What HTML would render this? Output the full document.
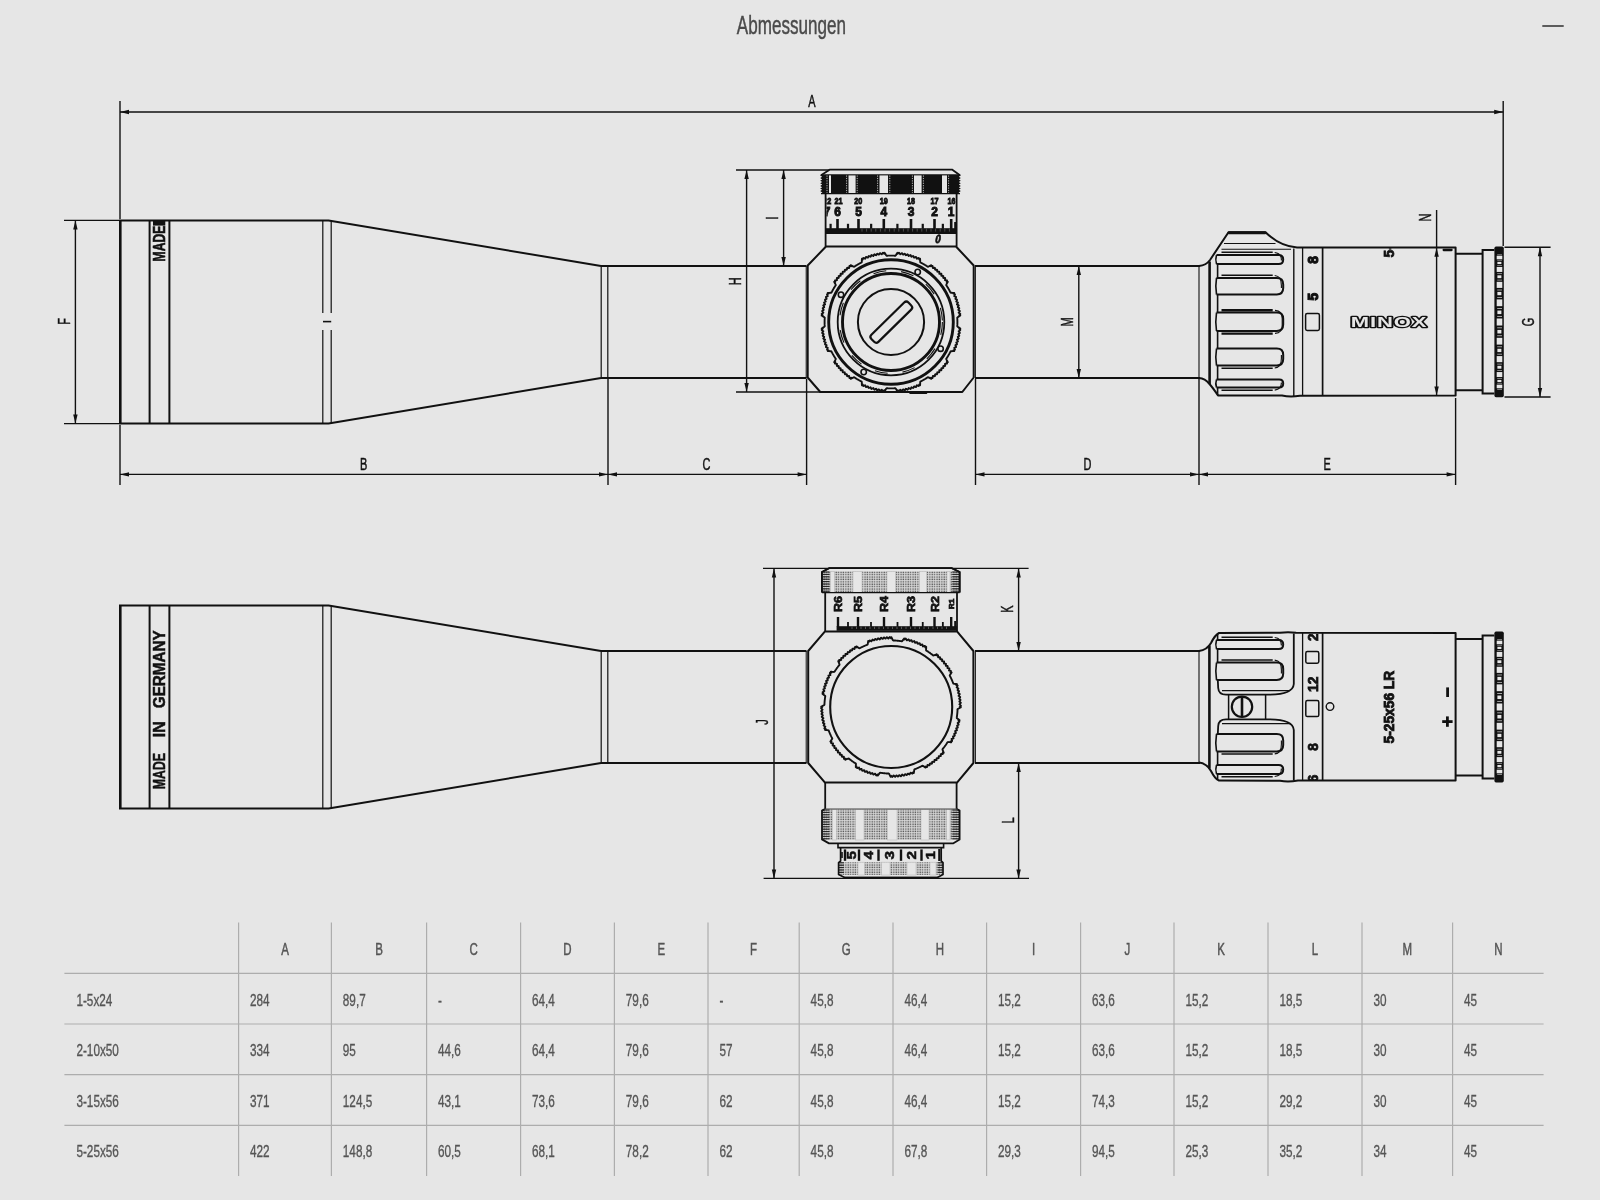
<!DOCTYPE html>
<html lang="de"><head><meta charset="utf-8"><title>Abmessungen</title>
<style>
html,body{margin:0;padding:0;background:#e6e6e6;}
body{width:1600px;height:1200px;overflow:hidden;font-family:"Liberation Sans",sans-serif;}
svg{display:block;will-change:transform;font-family:"Liberation Sans",sans-serif;}
</style></head><body>
<svg width="1600" height="1200" viewBox="0 0 1600 1200">
<text transform="translate(736.8,33.5) scale(0.657,1)" font-size="26" fill="#4a4a4a" stroke="#4a4a4a" stroke-width="0.45">Abmessungen</text>
<line x1="1543" y1="25.95" x2="1563" y2="25.95" stroke="#5c5c5c" stroke-width="1.9" stroke-linecap="round"/>
<path d="M601,266 L328.6,220.4 L120,220.4 L120,423.6 L328.6,423.6 L601,378" stroke="#111" stroke-width="2" fill="none" stroke-linejoin="miter"/>
<line x1="120.3" y1="220.4" x2="120.3" y2="423.6" stroke="#111" stroke-width="2.6"/>
<line x1="149.6" y1="220.4" x2="149.6" y2="423.6" stroke="#111" stroke-width="2"/>
<line x1="169.4" y1="220.4" x2="169.4" y2="423.6" stroke="#111" stroke-width="2"/>
<line x1="322.8" y1="220.4" x2="322.8" y2="313" stroke="#111" stroke-width="1.2"/>
<line x1="322.8" y1="330" x2="322.8" y2="423.6" stroke="#111" stroke-width="1.2"/>
<line x1="331.2" y1="220.4" x2="331.2" y2="313" stroke="#111" stroke-width="1.2"/>
<line x1="331.2" y1="330" x2="331.2" y2="423.6" stroke="#111" stroke-width="1.2"/>
<line x1="323" y1="321.6" x2="331.2" y2="321.6" stroke="#111" stroke-width="1.6"/>
<rect x="153" y="220.4" width="12.3" height="5.2" fill="#111" stroke="none" stroke-width="0" rx="0"/>
<text transform="translate(165,261.4) rotate(-90)" font-size="16.6" font-weight="bold" fill="#111" stroke="#111" stroke-width="0.6" textLength="35.6" lengthAdjust="spacingAndGlyphs">MADE</text>
<line x1="601" y1="266" x2="806.5" y2="266" stroke="#111" stroke-width="2"/>
<line x1="601" y1="378" x2="806.5" y2="378" stroke="#111" stroke-width="2"/>
<line x1="601.2" y1="266" x2="601.2" y2="378" stroke="#111" stroke-width="1.2"/>
<line x1="607.8" y1="266" x2="607.8" y2="378" stroke="#111" stroke-width="1.2"/>
<line x1="975" y1="266" x2="1200" y2="266" stroke="#111" stroke-width="2"/>
<line x1="975" y1="378" x2="1200" y2="378" stroke="#111" stroke-width="2"/>
<path d="M826,246.5 L956,246.5 L973.7,265.5 L973.7,377.5 L962.3,392 L820.3,392 L807.7,377.5 L807.7,265.5 Z" stroke="#111" stroke-width="2" fill="none" stroke-linejoin="round"/>
<line x1="806.2" y1="266" x2="806.2" y2="378" stroke="#111" stroke-width="1"/>
<line x1="975.4" y1="266" x2="975.4" y2="378" stroke="#111" stroke-width="1"/>
<line x1="910" y1="393.3" x2="926.5" y2="393.3" stroke="#111" stroke-width="1.5" stroke-linecap="round"/>
<path d="M957.4,322 L957.4,322.36 L957.4,322.72 L957.39,323.09 L957.38,323.45 L957.38,323.81 L957.36,324.17 L957.35,324.53 L957.34,324.9 L957.32,325.26 L957.3,325.62 L957.28,325.98 L957.26,326.34 L957.62,326.73 L958.3,327.15 L958.97,327.57 L959.64,328.01 L960.3,328.44 L959.25,328.72 L959.6,329.13 L959.95,329.55 L960.3,329.97 L959.96,330.31 L959.52,330.64 L959.09,330.96 L958.68,331.29 L959.02,331.71 L959.35,332.14 L959.68,332.57 L959.85,332.98 L959.41,333.29 L958.96,333.6 L958.51,333.9 L958.34,334.25 L958.65,334.69 L958.96,335.13 L959.27,335.58 L959.18,335.95 L958.73,336.24 L958.26,336.53 L957.8,336.81 L957.86,337.21 L958.15,337.66 L958.45,338.12 L958.74,338.58 L958.39,338.88 L957.92,339.15 L957.45,339.42 L956.97,339.68 L957.25,340.14 L957.53,340.61 L957.8,341.08 L957.95,341.51 L957.47,341.77 L956.99,342.02 L956.5,342.26 L956.26,342.58 L956.52,343.05 L956.77,343.53 L957.02,344.01 L956.92,344.38 L956.43,344.61 L955.93,344.83 L955.44,345.06 L955.42,345.45 L955.65,345.93 L955.89,346.42 L956.12,346.92 L955.76,347.18 L955.26,347.39 L954.76,347.6 L954.26,347.8 L954.45,348.28 L954.66,348.78 L954.88,349.28 L955,349.74 L954.49,349.94 L953.98,350.12 L953.47,350.3 L954.24,351.07 L953.45,351.12 L952.65,351.16 L951.86,351.19 L951.06,351.21 L950.55,351.37 L950.39,351.69 L950.23,352.02 L950.06,352.34 L949.9,352.66 L949.73,352.98 L949.56,353.3 L949.39,353.62 L949.21,353.94 L949.04,354.25 L948.86,354.57 L948.68,354.89 L948.5,355.2 L948.32,355.51 L948.14,355.83 L947.95,356.14 L947.77,356.45 L947.58,356.76 L947.39,357.06 L947.19,357.37 L947,357.68 L946.81,357.98 L946.61,358.29 L946.41,358.59 L946.21,358.89 L946.33,359.41 L946.71,360.11 L947.08,360.81 L947.44,361.52 L947.8,362.23 L946.75,361.95 L946.84,362.48 L946.94,363.01 L947.03,363.55 L946.56,363.68 L946.02,363.75 L945.48,363.81 L944.97,363.88 L945.05,364.42 L945.12,364.95 L945.19,365.49 L945.14,365.94 L944.59,365.98 L944.05,366.03 L943.51,366.06 L943.19,366.28 L943.24,366.82 L943.29,367.36 L943.34,367.9 L943.07,368.17 L942.53,368.2 L941.99,368.21 L941.45,368.23 L941.3,368.6 L941.33,369.14 L941.35,369.68 L941.38,370.22 L940.92,370.31 L940.38,370.31 L939.84,370.31 L939.3,370.3 L939.31,370.84 L939.31,371.38 L939.31,371.92 L939.22,372.38 L938.68,372.35 L938.14,372.33 L937.6,372.3 L937.23,372.45 L937.21,372.99 L937.2,373.53 L937.17,374.07 L936.9,374.34 L936.36,374.29 L935.82,374.24 L935.28,374.19 L935.06,374.51 L935.03,375.05 L934.98,375.59 L934.94,376.14 L934.49,376.19 L933.95,376.12 L933.42,376.05 L932.88,375.97 L932.81,376.48 L932.75,377.02 L932.68,377.56 L932.55,378.03 L932.01,377.94 L931.48,377.84 L930.95,377.75 L931.23,378.8 L930.52,378.44 L929.81,378.08 L929.11,377.71 L928.41,377.33 L927.89,377.21 L927.59,377.41 L927.29,377.61 L926.98,377.81 L926.68,378 L926.37,378.19 L926.06,378.39 L925.76,378.58 L925.45,378.77 L925.14,378.95 L924.83,379.14 L924.51,379.32 L924.2,379.5 L923.89,379.68 L923.57,379.86 L923.25,380.04 L922.94,380.21 L922.62,380.39 L922.3,380.56 L921.98,380.73 L921.66,380.9 L921.34,381.06 L921.02,381.23 L920.69,381.39 L920.37,381.55 L920.21,382.06 L920.19,382.86 L920.16,383.65 L920.12,384.45 L920.07,385.24 L919.3,384.47 L919.12,384.98 L918.94,385.49 L918.74,386 L918.28,385.88 L917.78,385.66 L917.28,385.45 L916.8,385.26 L916.6,385.76 L916.39,386.26 L916.18,386.76 L915.92,387.12 L915.42,386.89 L914.93,386.65 L914.45,386.42 L914.06,386.44 L913.83,386.93 L913.61,387.43 L913.38,387.92 L913.01,388.02 L912.53,387.77 L912.05,387.52 L911.58,387.26 L911.26,387.5 L911.02,387.99 L910.77,388.47 L910.51,388.95 L910.08,388.8 L909.61,388.53 L909.14,388.25 L908.68,387.97 L908.42,388.45 L908.15,388.92 L907.88,389.39 L907.58,389.74 L907.12,389.45 L906.66,389.15 L906.21,388.86 L905.81,388.8 L905.53,389.26 L905.24,389.73 L904.95,390.18 L904.58,390.27 L904.13,389.96 L903.69,389.65 L903.25,389.34 L902.9,389.51 L902.6,389.96 L902.29,390.41 L901.98,390.85 L901.57,390.68 L901.14,390.35 L900.71,390.02 L900.29,389.68 L899.96,390.09 L899.64,390.52 L899.31,390.96 L898.97,391.3 L898.55,390.95 L898.13,390.6 L897.72,390.25 L897.44,391.3 L897.01,390.64 L896.57,389.97 L896.15,389.3 L895.73,388.62 L895.34,388.26 L894.98,388.28 L894.62,388.3 L894.26,388.32 L893.9,388.34 L893.53,388.35 L893.17,388.36 L892.81,388.38 L892.45,388.38 L892.09,388.39 L891.72,388.4 L891.36,388.4 L891,388.4 L890.64,388.4 L890.28,388.4 L889.91,388.39 L889.55,388.38 L889.19,388.38 L888.83,388.36 L888.47,388.35 L888.1,388.34 L887.74,388.32 L887.38,388.3 L887.02,388.28 L886.66,388.26 L886.27,388.62 L885.85,389.3 L885.43,389.97 L884.99,390.64 L884.56,391.3 L884.28,390.25 L883.87,390.6 L883.45,390.95 L883.03,391.3 L882.69,390.96 L882.36,390.52 L882.04,390.09 L881.71,389.68 L881.29,390.02 L880.86,390.35 L880.43,390.68 L880.02,390.85 L879.71,390.41 L879.4,389.96 L879.1,389.51 L878.75,389.34 L878.31,389.65 L877.87,389.96 L877.42,390.27 L877.05,390.18 L876.76,389.73 L876.47,389.26 L876.19,388.8 L875.79,388.86 L875.34,389.15 L874.88,389.45 L874.42,389.74 L874.12,389.39 L873.85,388.92 L873.58,388.45 L873.32,387.97 L872.86,388.25 L872.39,388.53 L871.92,388.8 L871.49,388.95 L871.23,388.47 L870.98,387.99 L870.74,387.5 L870.42,387.26 L869.95,387.52 L869.47,387.77 L868.99,388.02 L868.62,387.92 L868.39,387.43 L868.17,386.93 L867.94,386.44 L867.55,386.42 L867.07,386.65 L866.58,386.89 L866.08,387.12 L865.82,386.76 L865.61,386.26 L865.4,385.76 L865.2,385.26 L864.72,385.45 L864.22,385.66 L863.72,385.88 L863.26,386 L863.06,385.49 L862.88,384.98 L862.7,384.47 L861.93,385.24 L861.88,384.45 L861.84,383.65 L861.81,382.86 L861.79,382.06 L861.63,381.55 L861.31,381.39 L860.98,381.23 L860.66,381.06 L860.34,380.9 L860.02,380.73 L859.7,380.56 L859.38,380.39 L859.06,380.21 L858.75,380.04 L858.43,379.86 L858.11,379.68 L857.8,379.5 L857.49,379.32 L857.17,379.14 L856.86,378.95 L856.55,378.77 L856.24,378.58 L855.94,378.39 L855.63,378.19 L855.32,378 L855.02,377.81 L854.71,377.61 L854.41,377.41 L854.11,377.21 L853.59,377.33 L852.89,377.71 L852.19,378.08 L851.48,378.44 L850.77,378.8 L851.05,377.75 L850.52,377.84 L849.99,377.94 L849.45,378.03 L849.32,377.56 L849.25,377.02 L849.19,376.48 L849.12,375.97 L848.58,376.05 L848.05,376.12 L847.51,376.19 L847.06,376.14 L847.02,375.59 L846.97,375.05 L846.94,374.51 L846.72,374.19 L846.18,374.24 L845.64,374.29 L845.1,374.34 L844.83,374.07 L844.8,373.53 L844.79,372.99 L844.77,372.45 L844.4,372.3 L843.86,372.33 L843.32,372.35 L842.78,372.38 L842.69,371.92 L842.69,371.38 L842.69,370.84 L842.7,370.3 L842.16,370.31 L841.62,370.31 L841.08,370.31 L840.62,370.22 L840.65,369.68 L840.67,369.14 L840.7,368.6 L840.55,368.23 L840.01,368.21 L839.47,368.2 L838.93,368.17 L838.66,367.9 L838.71,367.36 L838.76,366.82 L838.81,366.28 L838.49,366.06 L837.95,366.03 L837.41,365.98 L836.86,365.94 L836.81,365.49 L836.88,364.95 L836.95,364.42 L837.03,363.88 L836.52,363.81 L835.98,363.75 L835.44,363.68 L834.97,363.55 L835.06,363.01 L835.16,362.48 L835.25,361.95 L834.2,362.23 L834.56,361.52 L834.92,360.81 L835.29,360.11 L835.67,359.41 L835.79,358.89 L835.59,358.59 L835.39,358.29 L835.19,357.98 L835,357.68 L834.81,357.37 L834.61,357.06 L834.42,356.76 L834.23,356.45 L834.05,356.14 L833.86,355.83 L833.68,355.51 L833.5,355.2 L833.32,354.89 L833.14,354.57 L832.96,354.25 L832.79,353.94 L832.61,353.62 L832.44,353.3 L832.27,352.98 L832.1,352.66 L831.94,352.34 L831.77,352.02 L831.61,351.69 L831.45,351.37 L830.94,351.21 L830.14,351.19 L829.35,351.16 L828.55,351.12 L827.76,351.07 L828.53,350.3 L828.02,350.12 L827.51,349.94 L827,349.74 L827.12,349.28 L827.34,348.78 L827.55,348.28 L827.74,347.8 L827.24,347.6 L826.74,347.39 L826.24,347.18 L825.88,346.92 L826.11,346.42 L826.35,345.93 L826.58,345.45 L826.56,345.06 L826.07,344.83 L825.57,344.61 L825.08,344.38 L824.98,344.01 L825.23,343.53 L825.48,343.05 L825.74,342.58 L825.5,342.26 L825.01,342.02 L824.53,341.77 L824.05,341.51 L824.2,341.08 L824.47,340.61 L824.75,340.14 L825.03,339.68 L824.55,339.42 L824.08,339.15 L823.61,338.88 L823.26,338.58 L823.55,338.12 L823.85,337.66 L824.14,337.21 L824.2,336.81 L823.74,336.53 L823.27,336.24 L822.82,335.95 L822.73,335.58 L823.04,335.13 L823.35,334.69 L823.66,334.25 L823.49,333.9 L823.04,333.6 L822.59,333.29 L822.15,332.98 L822.32,332.57 L822.65,332.14 L822.98,331.71 L823.32,331.29 L822.91,330.96 L822.48,330.64 L822.04,330.31 L821.7,329.97 L822.05,329.55 L822.4,329.13 L822.75,328.72 L821.7,328.44 L822.36,328.01 L823.03,327.57 L823.7,327.15 L824.38,326.73 L824.74,326.34 L824.72,325.98 L824.7,325.62 L824.68,325.26 L824.66,324.9 L824.65,324.53 L824.64,324.17 L824.62,323.81 L824.62,323.45 L824.61,323.09 L824.6,322.72 L824.6,322.36 L824.6,322 L824.6,321.64 L824.6,321.28 L824.61,320.91 L824.62,320.55 L824.62,320.19 L824.64,319.83 L824.65,319.47 L824.66,319.1 L824.68,318.74 L824.7,318.38 L824.72,318.02 L824.74,317.66 L824.38,317.27 L823.7,316.85 L823.03,316.43 L822.36,315.99 L821.7,315.56 L822.75,315.28 L822.4,314.87 L822.05,314.45 L821.7,314.03 L822.04,313.69 L822.48,313.36 L822.91,313.04 L823.32,312.71 L822.98,312.29 L822.65,311.86 L822.32,311.43 L822.15,311.02 L822.59,310.71 L823.04,310.4 L823.49,310.1 L823.66,309.75 L823.35,309.31 L823.04,308.87 L822.73,308.42 L822.82,308.05 L823.27,307.76 L823.74,307.47 L824.2,307.19 L824.14,306.79 L823.85,306.34 L823.55,305.88 L823.26,305.42 L823.61,305.12 L824.08,304.85 L824.55,304.58 L825.03,304.32 L824.75,303.86 L824.47,303.39 L824.2,302.92 L824.05,302.49 L824.53,302.23 L825.01,301.98 L825.5,301.74 L825.74,301.42 L825.48,300.95 L825.23,300.47 L824.98,299.99 L825.08,299.62 L825.57,299.39 L826.07,299.17 L826.56,298.94 L826.58,298.55 L826.35,298.07 L826.11,297.58 L825.88,297.08 L826.24,296.82 L826.74,296.61 L827.24,296.4 L827.74,296.2 L827.55,295.72 L827.34,295.22 L827.12,294.72 L827,294.26 L827.51,294.06 L828.02,293.88 L828.53,293.7 L827.76,292.93 L828.55,292.88 L829.35,292.84 L830.14,292.81 L830.94,292.79 L831.45,292.63 L831.61,292.31 L831.77,291.98 L831.94,291.66 L832.1,291.34 L832.27,291.02 L832.44,290.7 L832.61,290.38 L832.79,290.06 L832.96,289.75 L833.14,289.43 L833.32,289.11 L833.5,288.8 L833.68,288.49 L833.86,288.17 L834.05,287.86 L834.23,287.55 L834.42,287.24 L834.61,286.94 L834.81,286.63 L835,286.32 L835.19,286.02 L835.39,285.71 L835.59,285.41 L835.79,285.11 L835.67,284.59 L835.29,283.89 L834.92,283.19 L834.56,282.48 L834.2,281.77 L835.25,282.05 L835.16,281.52 L835.06,280.99 L834.97,280.45 L835.44,280.32 L835.98,280.25 L836.52,280.19 L837.03,280.12 L836.95,279.58 L836.88,279.05 L836.81,278.51 L836.86,278.06 L837.41,278.02 L837.95,277.97 L838.49,277.94 L838.81,277.72 L838.76,277.18 L838.71,276.64 L838.66,276.1 L838.93,275.83 L839.47,275.8 L840.01,275.79 L840.55,275.77 L840.7,275.4 L840.67,274.86 L840.65,274.32 L840.62,273.78 L841.08,273.69 L841.62,273.69 L842.16,273.69 L842.7,273.7 L842.69,273.16 L842.69,272.62 L842.69,272.08 L842.78,271.62 L843.32,271.65 L843.86,271.67 L844.4,271.7 L844.77,271.55 L844.79,271.01 L844.8,270.47 L844.83,269.93 L845.1,269.66 L845.64,269.71 L846.18,269.76 L846.72,269.81 L846.94,269.49 L846.97,268.95 L847.02,268.41 L847.06,267.86 L847.51,267.81 L848.05,267.88 L848.58,267.95 L849.12,268.03 L849.19,267.52 L849.25,266.98 L849.32,266.44 L849.45,265.97 L849.99,266.06 L850.52,266.16 L851.05,266.25 L850.77,265.2 L851.48,265.56 L852.19,265.92 L852.89,266.29 L853.59,266.67 L854.11,266.79 L854.41,266.59 L854.71,266.39 L855.02,266.19 L855.32,266 L855.63,265.81 L855.94,265.61 L856.24,265.42 L856.55,265.23 L856.86,265.05 L857.17,264.86 L857.49,264.68 L857.8,264.5 L858.11,264.32 L858.43,264.14 L858.75,263.96 L859.06,263.79 L859.38,263.61 L859.7,263.44 L860.02,263.27 L860.34,263.1 L860.66,262.94 L860.98,262.77 L861.31,262.61 L861.63,262.45 L861.79,261.94 L861.81,261.14 L861.84,260.35 L861.88,259.55 L861.93,258.76 L862.7,259.53 L862.88,259.02 L863.06,258.51 L863.26,258 L863.72,258.12 L864.22,258.34 L864.72,258.55 L865.2,258.74 L865.4,258.24 L865.61,257.74 L865.82,257.24 L866.08,256.88 L866.58,257.11 L867.07,257.35 L867.55,257.58 L867.94,257.56 L868.17,257.07 L868.39,256.57 L868.62,256.08 L868.99,255.98 L869.47,256.23 L869.95,256.48 L870.42,256.74 L870.74,256.5 L870.98,256.01 L871.23,255.53 L871.49,255.05 L871.92,255.2 L872.39,255.47 L872.86,255.75 L873.32,256.03 L873.58,255.55 L873.85,255.08 L874.12,254.61 L874.42,254.26 L874.88,254.55 L875.34,254.85 L875.79,255.14 L876.19,255.2 L876.47,254.74 L876.76,254.27 L877.05,253.82 L877.42,253.73 L877.87,254.04 L878.31,254.35 L878.75,254.66 L879.1,254.49 L879.4,254.04 L879.71,253.59 L880.02,253.15 L880.43,253.32 L880.86,253.65 L881.29,253.98 L881.71,254.32 L882.04,253.91 L882.36,253.48 L882.69,253.04 L883.03,252.7 L883.45,253.05 L883.87,253.4 L884.28,253.75 L884.56,252.7 L884.99,253.36 L885.43,254.03 L885.85,254.7 L886.27,255.38 L886.66,255.74 L887.02,255.72 L887.38,255.7 L887.74,255.68 L888.1,255.66 L888.47,255.65 L888.83,255.64 L889.19,255.62 L889.55,255.62 L889.91,255.61 L890.28,255.6 L890.64,255.6 L891,255.6 L891.36,255.6 L891.72,255.6 L892.09,255.61 L892.45,255.62 L892.81,255.62 L893.17,255.64 L893.53,255.65 L893.9,255.66 L894.26,255.68 L894.62,255.7 L894.98,255.72 L895.34,255.74 L895.73,255.38 L896.15,254.7 L896.57,254.03 L897.01,253.36 L897.44,252.7 L897.72,253.75 L898.13,253.4 L898.55,253.05 L898.97,252.7 L899.31,253.04 L899.64,253.48 L899.96,253.91 L900.29,254.32 L900.71,253.98 L901.14,253.65 L901.57,253.32 L901.98,253.15 L902.29,253.59 L902.6,254.04 L902.9,254.49 L903.25,254.66 L903.69,254.35 L904.13,254.04 L904.58,253.73 L904.95,253.82 L905.24,254.27 L905.53,254.74 L905.81,255.2 L906.21,255.14 L906.66,254.85 L907.12,254.55 L907.58,254.26 L907.88,254.61 L908.15,255.08 L908.42,255.55 L908.68,256.03 L909.14,255.75 L909.61,255.47 L910.08,255.2 L910.51,255.05 L910.77,255.53 L911.02,256.01 L911.26,256.5 L911.58,256.74 L912.05,256.48 L912.53,256.23 L913.01,255.98 L913.38,256.08 L913.61,256.57 L913.83,257.07 L914.06,257.56 L914.45,257.58 L914.93,257.35 L915.42,257.11 L915.92,256.88 L916.18,257.24 L916.39,257.74 L916.6,258.24 L916.8,258.74 L917.28,258.55 L917.78,258.34 L918.28,258.12 L918.74,258 L918.94,258.51 L919.12,259.02 L919.3,259.53 L920.07,258.76 L920.12,259.55 L920.16,260.35 L920.19,261.14 L920.21,261.94 L920.37,262.45 L920.69,262.61 L921.02,262.77 L921.34,262.94 L921.66,263.1 L921.98,263.27 L922.3,263.44 L922.62,263.61 L922.94,263.79 L923.25,263.96 L923.57,264.14 L923.89,264.32 L924.2,264.5 L924.51,264.68 L924.83,264.86 L925.14,265.05 L925.45,265.23 L925.76,265.42 L926.06,265.61 L926.37,265.81 L926.68,266 L926.98,266.19 L927.29,266.39 L927.59,266.59 L927.89,266.79 L928.41,266.67 L929.11,266.29 L929.81,265.92 L930.52,265.56 L931.23,265.2 L930.95,266.25 L931.48,266.16 L932.01,266.06 L932.55,265.97 L932.68,266.44 L932.75,266.98 L932.81,267.52 L932.88,268.03 L933.42,267.95 L933.95,267.88 L934.49,267.81 L934.94,267.86 L934.98,268.41 L935.03,268.95 L935.06,269.49 L935.28,269.81 L935.82,269.76 L936.36,269.71 L936.9,269.66 L937.17,269.93 L937.2,270.47 L937.21,271.01 L937.23,271.55 L937.6,271.7 L938.14,271.67 L938.68,271.65 L939.22,271.62 L939.31,272.08 L939.31,272.62 L939.31,273.16 L939.3,273.7 L939.84,273.69 L940.38,273.69 L940.92,273.69 L941.38,273.78 L941.35,274.32 L941.33,274.86 L941.3,275.4 L941.45,275.77 L941.99,275.79 L942.53,275.8 L943.07,275.83 L943.34,276.1 L943.29,276.64 L943.24,277.18 L943.19,277.72 L943.51,277.94 L944.05,277.97 L944.59,278.02 L945.14,278.06 L945.19,278.51 L945.12,279.05 L945.05,279.58 L944.97,280.12 L945.48,280.19 L946.02,280.25 L946.56,280.32 L947.03,280.45 L946.94,280.99 L946.84,281.52 L946.75,282.05 L947.8,281.77 L947.44,282.48 L947.08,283.19 L946.71,283.89 L946.33,284.59 L946.21,285.11 L946.41,285.41 L946.61,285.71 L946.81,286.02 L947,286.32 L947.19,286.63 L947.39,286.94 L947.58,287.24 L947.77,287.55 L947.95,287.86 L948.14,288.17 L948.32,288.49 L948.5,288.8 L948.68,289.11 L948.86,289.43 L949.04,289.75 L949.21,290.06 L949.39,290.38 L949.56,290.7 L949.73,291.02 L949.9,291.34 L950.06,291.66 L950.23,291.98 L950.39,292.31 L950.55,292.63 L951.06,292.79 L951.86,292.81 L952.65,292.84 L953.45,292.88 L954.24,292.93 L953.47,293.7 L953.98,293.88 L954.49,294.06 L955,294.26 L954.88,294.72 L954.66,295.22 L954.45,295.72 L954.26,296.2 L954.76,296.4 L955.26,296.61 L955.76,296.82 L956.12,297.08 L955.89,297.58 L955.65,298.07 L955.42,298.55 L955.44,298.94 L955.93,299.17 L956.43,299.39 L956.92,299.62 L957.02,299.99 L956.77,300.47 L956.52,300.95 L956.26,301.42 L956.5,301.74 L956.99,301.98 L957.47,302.23 L957.95,302.49 L957.8,302.92 L957.53,303.39 L957.25,303.86 L956.97,304.32 L957.45,304.58 L957.92,304.85 L958.39,305.12 L958.74,305.42 L958.45,305.88 L958.15,306.34 L957.86,306.79 L957.8,307.19 L958.26,307.47 L958.73,307.76 L959.18,308.05 L959.27,308.42 L958.96,308.87 L958.65,309.31 L958.34,309.75 L958.51,310.1 L958.96,310.4 L959.41,310.71 L959.85,311.02 L959.68,311.43 L959.35,311.86 L959.02,312.29 L958.68,312.71 L959.09,313.04 L959.52,313.36 L959.96,313.69 L960.3,314.03 L959.95,314.45 L959.6,314.87 L959.25,315.28 L960.3,315.56 L959.64,315.99 L958.97,316.43 L958.3,316.85 L957.62,317.27 L957.26,317.66 L957.28,318.02 L957.3,318.38 L957.32,318.74 L957.34,319.1 L957.35,319.47 L957.36,319.83 L957.38,320.19 L957.38,320.55 L957.39,320.91 L957.4,321.28 L957.4,321.64 L957.4,322Z" stroke="#111" stroke-width="1.9" fill="none" stroke-linejoin="round"/>
<circle cx="891" cy="322" r="62.3" stroke="#111" stroke-width="2.9" fill="none"/>
<circle cx="891" cy="322" r="53.3" stroke="#111" stroke-width="1.8" fill="none"/>
<circle cx="891" cy="322" r="51.4" stroke="#111" stroke-width="1.1" fill="none" stroke-dasharray="13 15"/>
<circle cx="891" cy="322" r="48.5" stroke="#111" stroke-width="2.9" fill="none"/>
<circle cx="891" cy="322" r="33.1" stroke="#111" stroke-width="2" fill="none"/>
<rect x="-26" y="-5" width="52" height="10" rx="3" transform="translate(891.3,322.2) rotate(-44.5)" fill="none" stroke="#111" stroke-width="2.2"/>
<circle cx="917.7" cy="272" r="2.7" stroke="#111" stroke-width="1.6" fill="#e6e6e6"/>
<circle cx="841" cy="294.7" r="2.7" stroke="#111" stroke-width="1.6" fill="#e6e6e6"/>
<circle cx="940.6" cy="348.7" r="2.7" stroke="#111" stroke-width="1.6" fill="#e6e6e6"/>
<circle cx="863.7" cy="372" r="2.7" stroke="#111" stroke-width="1.6" fill="#e6e6e6"/>
<defs><clipPath id="cl_drum1"><rect x="826.6" y="194.4" width="129" height="30"/></clipPath><clipPath id="cl_body1"><rect x="1300" y="248.4" width="155" height="147"/></clipPath><clipPath id="cl_ring2"><rect x="1303.4" y="634" width="18.4" height="146"/></clipPath><pattern id="dots" x="0" y="0" width="2.4" height="2.4" patternUnits="userSpaceOnUse"><rect width="2.4" height="2.4" fill="#dadada"/><rect x="0.4" y="0.4" width="1.3" height="1.3" fill="#4a4a4a"/></pattern></defs>
<path d="M821.4,175 L830,169.6 L952,169.6 L959.6,175" stroke="#111" stroke-width="1.8" fill="none" stroke-linejoin="round" stroke-linecap="round"/>
<polygon points="822.2,174.2 820.2,175.5 822.2,176.8 820.2,178.1 822.2,179.4 820.2,180.7 822.2,182 820.2,183.3 822.2,184.6 820.2,185.9 822.2,187.2 820.2,188.5 822.2,189.8 820.2,191.1 822.2,192.4 822.2,193.4 958.8,193.4 958.8,192.4 960.8,191.1 958.8,189.8 960.8,188.5 958.8,187.2 960.8,185.9 958.8,184.6 960.8,183.3 958.8,182 960.8,180.7 958.8,179.4 960.8,178.1 958.8,176.8 960.8,175.5 958.8,174.2" fill="#111"/>
<rect x="829" y="175.4" width="2" height="18.3" fill="#e6e6e6" stroke="none" stroke-width="0" rx="0"/>
<rect x="848.5" y="175.4" width="7.1" height="18.3" fill="#e6e6e6" stroke="none" stroke-width="0" rx="0"/>
<rect x="879.5" y="175.4" width="8.5" height="18.3" fill="#e6e6e6" stroke="none" stroke-width="0" rx="0"/>
<rect x="914" y="175.4" width="7.6" height="18.3" fill="#e6e6e6" stroke="none" stroke-width="0" rx="0"/>
<rect x="942" y="175.4" width="5" height="18.3" fill="#e6e6e6" stroke="none" stroke-width="0" rx="0"/>
<line x1="827" y1="175.5" x2="827" y2="193" stroke="#e6e6e6" stroke-width="0.8" stroke-dasharray="1.2 1.2"/>
<line x1="846.6" y1="175.5" x2="846.6" y2="193" stroke="#e6e6e6" stroke-width="0.8" stroke-dasharray="1.2 1.2"/>
<line x1="877.6" y1="175.5" x2="877.6" y2="193" stroke="#e6e6e6" stroke-width="0.8" stroke-dasharray="1.2 1.2"/>
<line x1="889.8" y1="175.5" x2="889.8" y2="193" stroke="#e6e6e6" stroke-width="0.8" stroke-dasharray="1.2 1.2"/>
<line x1="923.4" y1="175.5" x2="923.4" y2="193" stroke="#e6e6e6" stroke-width="0.8" stroke-dasharray="1.2 1.2"/>
<line x1="948.6" y1="175.5" x2="948.6" y2="193" stroke="#e6e6e6" stroke-width="0.8" stroke-dasharray="1.2 1.2"/>
<line x1="912.4" y1="175.5" x2="912.4" y2="193" stroke="#e6e6e6" stroke-width="0.8" stroke-dasharray="1.2 1.2"/>
<line x1="857.2" y1="175.5" x2="857.2" y2="193" stroke="#e6e6e6" stroke-width="0.8" stroke-dasharray="1.2 1.2"/>
<line x1="821" y1="193.6" x2="960" y2="193.6" stroke="#111" stroke-width="1.4"/>
<path d="M825.6,193.5 L825.6,246.5 M956.6,193.5 L956.6,246.5" stroke="#111" stroke-width="1.8" fill="none"/>
<g clip-path="url(#cl_drum1)">
<text transform="translate(827.2,211.3) rotate(0) scale(0.88,1)" y="4.87" font-size="13.6" font-weight="bold" text-anchor="middle" fill="#111" stroke="#111" stroke-width="1.0">7</text>
<text transform="translate(837.5,211.3) rotate(0) scale(0.88,1)" y="4.87" font-size="13.6" font-weight="bold" text-anchor="middle" fill="#111" stroke="#111" stroke-width="1.0">6</text>
<text transform="translate(858.5,211.3) rotate(0) scale(0.88,1)" y="4.87" font-size="13.6" font-weight="bold" text-anchor="middle" fill="#111" stroke="#111" stroke-width="1.0">5</text>
<text transform="translate(883.8,211.3) rotate(0) scale(0.88,1)" y="4.87" font-size="13.6" font-weight="bold" text-anchor="middle" fill="#111" stroke="#111" stroke-width="1.0">4</text>
<text transform="translate(911,211.3) rotate(0) scale(0.88,1)" y="4.87" font-size="13.6" font-weight="bold" text-anchor="middle" fill="#111" stroke="#111" stroke-width="1.0">3</text>
<text transform="translate(934.5,211.3) rotate(0) scale(0.88,1)" y="4.87" font-size="13.6" font-weight="bold" text-anchor="middle" fill="#111" stroke="#111" stroke-width="1.0">2</text>
<text transform="translate(951.2,211.3) rotate(0) scale(0.88,1)" y="4.87" font-size="13.6" font-weight="bold" text-anchor="middle" fill="#111" stroke="#111" stroke-width="1.0">1</text>
<text transform="translate(827.2,200) rotate(0) scale(0.74,1)" y="3.51" font-size="9.8" font-weight="bold" text-anchor="middle" fill="#111" stroke="#111" stroke-width="0.9">22</text>
<text transform="translate(838.5,200) rotate(0) scale(0.74,1)" y="3.51" font-size="9.8" font-weight="bold" text-anchor="middle" fill="#111" stroke="#111" stroke-width="0.9">21</text>
<text transform="translate(858.2,200) rotate(0) scale(0.74,1)" y="3.51" font-size="9.8" font-weight="bold" text-anchor="middle" fill="#111" stroke="#111" stroke-width="0.9">20</text>
<text transform="translate(883.8,200) rotate(0) scale(0.74,1)" y="3.51" font-size="9.8" font-weight="bold" text-anchor="middle" fill="#111" stroke="#111" stroke-width="0.9">19</text>
<text transform="translate(911,200) rotate(0) scale(0.74,1)" y="3.51" font-size="9.8" font-weight="bold" text-anchor="middle" fill="#111" stroke="#111" stroke-width="0.9">18</text>
<text transform="translate(934.5,200) rotate(0) scale(0.74,1)" y="3.51" font-size="9.8" font-weight="bold" text-anchor="middle" fill="#111" stroke="#111" stroke-width="0.9">17</text>
<text transform="translate(951.4,200) rotate(0) scale(0.74,1)" y="3.51" font-size="9.8" font-weight="bold" text-anchor="middle" fill="#111" stroke="#111" stroke-width="0.9">16</text>
</g>
<rect x="836.2" y="219" width="2.6" height="10" fill="#111" stroke="none" stroke-width="0" rx="0"/>
<rect x="857.2" y="219" width="2.6" height="10" fill="#111" stroke="none" stroke-width="0" rx="0"/>
<rect x="882.5" y="219" width="2.6" height="10" fill="#111" stroke="none" stroke-width="0" rx="0"/>
<rect x="909.7" y="219" width="2.6" height="10" fill="#111" stroke="none" stroke-width="0" rx="0"/>
<rect x="933.2" y="219" width="2.6" height="10" fill="#111" stroke="none" stroke-width="0" rx="0"/>
<rect x="949.9" y="219" width="2.6" height="10" fill="#111" stroke="none" stroke-width="0" rx="0"/>
<rect x="829.5" y="223.8" width="2.2" height="5" fill="#111" stroke="none" stroke-width="0" rx="0"/>
<rect x="846.9" y="223.8" width="2.2" height="5" fill="#111" stroke="none" stroke-width="0" rx="0"/>
<rect x="870.05" y="223.8" width="2.2" height="5" fill="#111" stroke="none" stroke-width="0" rx="0"/>
<rect x="896.3" y="223.8" width="2.2" height="5" fill="#111" stroke="none" stroke-width="0" rx="0"/>
<rect x="921.65" y="223.8" width="2.2" height="5" fill="#111" stroke="none" stroke-width="0" rx="0"/>
<rect x="941.75" y="223.8" width="2.2" height="5" fill="#111" stroke="none" stroke-width="0" rx="0"/>
<rect x="954.2" y="222" width="2" height="7" fill="#111" stroke="none" stroke-width="0" rx="0"/>
<rect x="825.6" y="228.2" width="131" height="5.8" fill="#111" stroke="none" stroke-width="0" rx="0"/>
<line x1="862" y1="228.6" x2="862" y2="231.6" stroke="#666" stroke-width="0.7"/>
<line x1="866.6" y1="228.6" x2="866.6" y2="231.6" stroke="#666" stroke-width="0.7"/>
<line x1="871.2" y1="228.6" x2="871.2" y2="231.6" stroke="#666" stroke-width="0.7"/>
<line x1="875.8" y1="228.6" x2="875.8" y2="231.6" stroke="#666" stroke-width="0.7"/>
<line x1="880.4" y1="228.6" x2="880.4" y2="231.6" stroke="#666" stroke-width="0.7"/>
<line x1="885" y1="228.6" x2="885" y2="231.6" stroke="#666" stroke-width="0.7"/>
<line x1="889.6" y1="228.6" x2="889.6" y2="231.6" stroke="#666" stroke-width="0.7"/>
<line x1="894.2" y1="228.6" x2="894.2" y2="231.6" stroke="#666" stroke-width="0.7"/>
<line x1="898.8" y1="228.6" x2="898.8" y2="231.6" stroke="#666" stroke-width="0.7"/>
<line x1="903.4" y1="228.6" x2="903.4" y2="231.6" stroke="#666" stroke-width="0.7"/>
<line x1="908" y1="228.6" x2="908" y2="231.6" stroke="#666" stroke-width="0.7"/>
<line x1="912.6" y1="228.6" x2="912.6" y2="231.6" stroke="#666" stroke-width="0.7"/>
<line x1="917.2" y1="228.6" x2="917.2" y2="231.6" stroke="#666" stroke-width="0.7"/>
<line x1="921.8" y1="228.6" x2="921.8" y2="231.6" stroke="#666" stroke-width="0.7"/>
<line x1="926.4" y1="228.6" x2="926.4" y2="231.6" stroke="#666" stroke-width="0.7"/>
<line x1="931" y1="228.6" x2="931" y2="231.6" stroke="#666" stroke-width="0.7"/>
<line x1="935.6" y1="228.6" x2="935.6" y2="231.6" stroke="#666" stroke-width="0.7"/>
<line x1="940.2" y1="228.6" x2="940.2" y2="231.6" stroke="#666" stroke-width="0.7"/>
<line x1="944.8" y1="228.6" x2="944.8" y2="231.6" stroke="#666" stroke-width="0.7"/>
<line x1="949.4" y1="228.6" x2="949.4" y2="231.6" stroke="#666" stroke-width="0.7"/>
<text transform="translate(937.4,243.2) skewX(-10) scale(0.82,1)" font-size="11.8" font-weight="bold" text-anchor="middle" fill="#111" stroke="#111" stroke-width="0.8">0</text>
<path d="M1199,266 Q1206,265.6 1210,260 L1228.5,232.2 L1265.5,232.2 Q1280,246.4 1297,247.4 L1455.6,247.6 L1455.6,395.4 L1300,395.8 Q1290,397.2 1282,395.6 L1218,395.4 Q1213,388 1209.5,384 Q1205,378.4 1199,378" stroke="#111" stroke-width="2" fill="none" stroke-linejoin="round"/>
<line x1="1229" y1="232.7" x2="1265" y2="232.7" stroke="#111" stroke-width="3" stroke-linecap="round"/>
<line x1="1199" y1="266" x2="1199" y2="378" stroke="#111" stroke-width="1.1"/>
<line x1="1209.6" y1="261.5" x2="1209.6" y2="384" stroke="#111" stroke-width="2.6"/>
<line x1="1293.8" y1="248.6" x2="1293.8" y2="396" stroke="#111" stroke-width="1.4"/>
<line x1="1302.6" y1="247.6" x2="1302.6" y2="396" stroke="#111" stroke-width="1.3"/>
<line x1="1322.6" y1="247.6" x2="1322.6" y2="396" stroke="#111" stroke-width="1.7"/>
<line x1="1224" y1="243.5" x2="1275.5" y2="243.5" stroke="#111" stroke-width="1.1"/>
<line x1="1221.5" y1="249.2" x2="1291" y2="249.2" stroke="#111" stroke-width="1.1"/>
<path d="M1216.5,255 L1278.7,255 Q1283.2,255 1283.2,259.5 L1283.2,259.5 Q1283.2,264 1278.7,264 L1216.5,264" stroke="#111" stroke-width="2" fill="none" stroke-linejoin="round"/>
<path d="M1216.5,255 Q1215.1,259.5 1216.5,264" stroke="#111" stroke-width="1.6" fill="none"/>
<path d="M1221.5,252.3 L1272.7,252.3" stroke="#111" stroke-width="1.5" fill="none"/>
<path d="M1274.7,252.5 Q1281.6,253.1 1281.4,260.5 L1281.4,259.5" stroke="#111" stroke-width="1.1" fill="none"/>
<path d="M1216.5,278 L1276.8,278 Q1283.2,278 1283.2,284.4 L1283.2,288.1 Q1283.2,294.5 1276.8,294.5 L1216.5,294.5" stroke="#111" stroke-width="2" fill="none" stroke-linejoin="round"/>
<path d="M1216.5,278 Q1215.1,286.25 1216.5,294.5" stroke="#111" stroke-width="1.6" fill="none"/>
<path d="M1221.5,275.3 L1272.7,275.3" stroke="#111" stroke-width="1.5" fill="none"/>
<path d="M1274.7,275.5 Q1281.6,276.1 1281.4,285.4 L1281.4,288.1" stroke="#111" stroke-width="1.1" fill="none"/>
<path d="M1216.5,312.6 L1276.8,312.6 Q1283.2,312.6 1283.2,319 L1283.2,324.6 Q1283.2,331 1276.8,331 L1216.5,331" stroke="#111" stroke-width="2" fill="none" stroke-linejoin="round"/>
<path d="M1216.5,312.6 Q1215.1,321.8 1216.5,331" stroke="#111" stroke-width="1.6" fill="none"/>
<path d="M1221.5,310.2 L1272.7,310.2" stroke="#111" stroke-width="2.4" fill="none"/>
<path d="M1221.5,333.6 L1272.7,333.6" stroke="#111" stroke-width="2.4" fill="none"/>
<path d="M1275,310.4 Q1282.6,311 1282.2,318.5 L1282.2,325 Q1282.6,332.8 1275,333.4" stroke="#111" stroke-width="1.1" fill="none"/>
<path d="M1216.5,348.6 L1276.8,348.6 Q1283.2,348.6 1283.2,355 L1283.2,359.1 Q1283.2,365.5 1276.8,365.5 L1216.5,365.5" stroke="#111" stroke-width="2" fill="none" stroke-linejoin="round"/>
<path d="M1216.5,348.6 Q1215.1,357.05 1216.5,365.5" stroke="#111" stroke-width="1.6" fill="none"/>
<path d="M1221.5,368.2 L1272.7,368.2" stroke="#111" stroke-width="1.5" fill="none"/>
<path d="M1274.7,368 Q1281.6,367.4 1281.4,358.1 L1281.4,355" stroke="#111" stroke-width="1.1" fill="none"/>
<path d="M1216.5,379.6 L1279.2,379.6 Q1283.2,379.6 1283.2,383.6 L1283.2,383.6 Q1283.2,387.6 1279.2,387.6 L1216.5,387.6" stroke="#111" stroke-width="2" fill="none" stroke-linejoin="round"/>
<path d="M1216.5,379.6 Q1215.1,383.6 1216.5,387.6" stroke="#111" stroke-width="1.6" fill="none"/>
<path d="M1221.5,390.3 L1272.7,390.3" stroke="#111" stroke-width="1.5" fill="none"/>
<path d="M1274.7,390.1 Q1281.6,389.5 1281.4,382.6 L1281.4,383.6" stroke="#111" stroke-width="1.1" fill="none"/>
<line x1="1217.6" y1="264" x2="1217.6" y2="278" stroke="#111" stroke-width="1.6"/>
<line x1="1217.6" y1="294.5" x2="1217.6" y2="312.6" stroke="#111" stroke-width="1.6"/>
<line x1="1217.6" y1="331" x2="1217.6" y2="348.6" stroke="#111" stroke-width="1.6"/>
<line x1="1217.6" y1="365.5" x2="1217.6" y2="379.6" stroke="#111" stroke-width="1.6"/>
<line x1="1217.6" y1="387.6" x2="1217.6" y2="395" stroke="#111" stroke-width="1.6"/>
<text transform="translate(1312.4,260) rotate(-90) scale(0.92,1)" y="5.3" font-size="14.8" font-weight="bold" text-anchor="middle" fill="#111" stroke="#111" stroke-width="1.2">8</text>
<text transform="translate(1312.4,296.6) rotate(-90) scale(0.92,1)" y="5.3" font-size="14.8" font-weight="bold" text-anchor="middle" fill="#111" stroke="#111" stroke-width="1.2">5</text>
<rect x="1305.6" y="313.6" width="13.8" height="16.8" fill="none" stroke="#111" stroke-width="1.5" rx="1.6"/>
<text transform="translate(1389,327.3) scale(1.47,1)" font-size="15" font-weight="bold" text-anchor="middle" fill="#e6e6e6" stroke="#111" stroke-width="2.7" paint-order="stroke" stroke-linejoin="round" letter-spacing="0.6">MINOX</text>
<g clip-path="url(#cl_body1)">
<text transform="translate(1394.2,257.4) rotate(-90)" font-size="14.6" font-weight="bold" fill="#111" stroke="#111" stroke-width="0.8" textLength="72.6" lengthAdjust="spacingAndGlyphs">5-25x56 LR</text>
<rect x="1442.6" y="248.4" width="10" height="2.8" fill="#111" stroke="none" stroke-width="0" rx="1.2"/>
</g>
<path d="M1455.6,253.8 L1482.5,253.8 M1455.6,390.2 L1482.5,390.2" stroke="#111" stroke-width="2" fill="none"/>
<path d="M1494.4,250 L1482.6,250 L1482.6,393.6 L1494.4,393.6" stroke="#111" stroke-width="2" fill="none"/>
<rect x="1494.4" y="246.6" width="9.4" height="150.6" fill="#111" stroke="none" stroke-width="0" rx="1.6"/>
<rect x="1497.2" y="254.49" width="4.8" height="0.7" fill="#bbb" stroke="none" stroke-width="0" rx="0"/>
<rect x="1496.7" y="255.78" width="5.6" height="3.56" fill="#e6e6e6" stroke="none" stroke-width="0" rx="0"/>
<rect x="1497.4" y="261.86" width="4" height="2.2" fill="#e6e6e6" stroke="none" stroke-width="0" rx="0"/>
<rect x="1497.2" y="260.38" width="4.8" height="0.51" fill="#bbb" stroke="none" stroke-width="0" rx="0"/>
<rect x="1497.2" y="265.26" width="4.8" height="0.59" fill="#bbb" stroke="none" stroke-width="0" rx="0"/>
<rect x="1496.7" y="266.95" width="5.6" height="5" fill="#e6e6e6" stroke="none" stroke-width="0" rx="0"/>
<rect x="1497.4" y="275.32" width="4" height="2.86" fill="#e6e6e6" stroke="none" stroke-width="0" rx="0"/>
<rect x="1497.2" y="273.36" width="4.8" height="0.69" fill="#bbb" stroke="none" stroke-width="0" rx="0"/>
<rect x="1497.2" y="279.7" width="4.8" height="0.74" fill="#bbb" stroke="none" stroke-width="0" rx="0"/>
<rect x="1496.7" y="281.82" width="5.6" height="6.1" fill="#e6e6e6" stroke="none" stroke-width="0" rx="0"/>
<rect x="1497.4" y="291.91" width="4" height="3.32" fill="#e6e6e6" stroke="none" stroke-width="0" rx="0"/>
<rect x="1497.2" y="289.6" width="4.8" height="0.81" fill="#bbb" stroke="none" stroke-width="0" rx="0"/>
<rect x="1497.2" y="296.98" width="4.8" height="0.85" fill="#bbb" stroke="none" stroke-width="0" rx="0"/>
<rect x="1496.7" y="299.4" width="5.6" height="6.79" fill="#e6e6e6" stroke="none" stroke-width="0" rx="0"/>
<rect x="1497.4" y="310.53" width="4" height="3.56" fill="#e6e6e6" stroke="none" stroke-width="0" rx="0"/>
<rect x="1497.2" y="308.02" width="4.8" height="0.88" fill="#bbb" stroke="none" stroke-width="0" rx="0"/>
<rect x="1497.2" y="315.95" width="4.8" height="0.9" fill="#bbb" stroke="none" stroke-width="0" rx="0"/>
<rect x="1496.7" y="318.49" width="5.6" height="7.03" fill="#e6e6e6" stroke="none" stroke-width="0" rx="0"/>
<rect x="1497.4" y="329.91" width="4" height="3.56" fill="#e6e6e6" stroke="none" stroke-width="0" rx="0"/>
<rect x="1497.2" y="327.38" width="4.8" height="0.89" fill="#bbb" stroke="none" stroke-width="0" rx="0"/>
<rect x="1497.2" y="335.32" width="4.8" height="0.88" fill="#bbb" stroke="none" stroke-width="0" rx="0"/>
<rect x="1496.7" y="337.81" width="5.6" height="6.79" fill="#e6e6e6" stroke="none" stroke-width="0" rx="0"/>
<rect x="1497.4" y="348.77" width="4" height="3.32" fill="#e6e6e6" stroke="none" stroke-width="0" rx="0"/>
<rect x="1497.2" y="346.38" width="4.8" height="0.85" fill="#bbb" stroke="none" stroke-width="0" rx="0"/>
<rect x="1497.2" y="353.79" width="4.8" height="0.81" fill="#bbb" stroke="none" stroke-width="0" rx="0"/>
<rect x="1496.7" y="356.08" width="5.6" height="6.1" fill="#e6e6e6" stroke="none" stroke-width="0" rx="0"/>
<rect x="1497.4" y="365.83" width="4" height="2.86" fill="#e6e6e6" stroke="none" stroke-width="0" rx="0"/>
<rect x="1497.2" y="363.74" width="4.8" height="0.74" fill="#bbb" stroke="none" stroke-width="0" rx="0"/>
<rect x="1497.2" y="370.13" width="4.8" height="0.68" fill="#bbb" stroke="none" stroke-width="0" rx="0"/>
<rect x="1496.7" y="372.05" width="5.6" height="5" fill="#e6e6e6" stroke="none" stroke-width="0" rx="0"/>
<rect x="1497.4" y="379.94" width="4" height="2.2" fill="#e6e6e6" stroke="none" stroke-width="0" rx="0"/>
<rect x="1497.2" y="378.29" width="4.8" height="0.59" fill="#bbb" stroke="none" stroke-width="0" rx="0"/>
<rect x="1497.2" y="383.23" width="4.8" height="0.51" fill="#bbb" stroke="none" stroke-width="0" rx="0"/>
<rect x="1496.7" y="384.66" width="5.6" height="3.56" fill="#e6e6e6" stroke="none" stroke-width="0" rx="0"/>
<rect x="1497.2" y="388.91" width="4.8" height="0.7" fill="#bbb" stroke="none" stroke-width="0" rx="0"/>
<line x1="120" y1="101" x2="120" y2="219" stroke="#111" stroke-width="1.4"/>
<line x1="1503.2" y1="101" x2="1503.2" y2="246" stroke="#111" stroke-width="1.4"/>
<line x1="120" y1="112" x2="1503.2" y2="112" stroke="#111" stroke-width="1.4"/>
<polygon points="120,112 129,109.8 129,114.2" fill="#111"/>
<polygon points="1503.2,112 1494.2,109.8 1494.2,114.2" fill="#111"/>
<text transform="translate(811.8,101.5) rotate(0) scale(0.69,1)" y="5.69" font-size="15.9" font-weight="normal" text-anchor="middle" fill="#111" stroke="#111" stroke-width="0.45">A</text>
<line x1="64" y1="220.4" x2="119" y2="220.4" stroke="#111" stroke-width="1.4"/>
<line x1="64" y1="423.6" x2="119" y2="423.6" stroke="#111" stroke-width="1.4"/>
<line x1="75.4" y1="220.4" x2="75.4" y2="423.6" stroke="#111" stroke-width="1.4"/>
<polygon points="75.4,220.4 73.2,229.4 77.6,229.4" fill="#111"/>
<polygon points="75.4,423.6 73.2,414.6 77.6,414.6" fill="#111"/>
<text transform="translate(64,321.4) rotate(-90) scale(0.69,1)" y="5.69" font-size="15.9" font-weight="normal" text-anchor="middle" fill="#111" stroke="#111" stroke-width="0.45">F</text>
<line x1="120" y1="425" x2="120" y2="485" stroke="#111" stroke-width="1.4"/>
<line x1="608" y1="379" x2="608" y2="485" stroke="#111" stroke-width="1.4"/>
<line x1="806.6" y1="379" x2="806.6" y2="485" stroke="#111" stroke-width="1.4"/>
<line x1="975.5" y1="379" x2="975.5" y2="485" stroke="#111" stroke-width="1.4"/>
<line x1="1199" y1="379" x2="1199" y2="485" stroke="#111" stroke-width="1.4"/>
<line x1="1455.6" y1="398" x2="1455.6" y2="485" stroke="#111" stroke-width="1.4"/>
<line x1="120" y1="474.4" x2="608" y2="474.4" stroke="#111" stroke-width="1.4"/>
<polygon points="120,474.4 129,472.2 129,476.6" fill="#111"/>
<polygon points="608,474.4 599,472.2 599,476.6" fill="#111"/>
<line x1="608" y1="474.4" x2="806.6" y2="474.4" stroke="#111" stroke-width="1.4"/>
<polygon points="608,474.4 617,472.2 617,476.6" fill="#111"/>
<polygon points="806.6,474.4 797.6,472.2 797.6,476.6" fill="#111"/>
<line x1="975.5" y1="474.4" x2="1199" y2="474.4" stroke="#111" stroke-width="1.4"/>
<polygon points="975.5,474.4 984.5,472.2 984.5,476.6" fill="#111"/>
<polygon points="1199,474.4 1190,472.2 1190,476.6" fill="#111"/>
<line x1="1199" y1="474.4" x2="1455.6" y2="474.4" stroke="#111" stroke-width="1.4"/>
<polygon points="1199,474.4 1208,472.2 1208,476.6" fill="#111"/>
<polygon points="1455.6,474.4 1446.6,472.2 1446.6,476.6" fill="#111"/>
<text transform="translate(363.6,464.3) rotate(0) scale(0.69,1)" y="5.69" font-size="15.9" font-weight="normal" text-anchor="middle" fill="#111" stroke="#111" stroke-width="0.45">B</text>
<text transform="translate(706.4,464.3) rotate(0) scale(0.69,1)" y="5.69" font-size="15.9" font-weight="normal" text-anchor="middle" fill="#111" stroke="#111" stroke-width="0.45">C</text>
<text transform="translate(1087.4,464.3) rotate(0) scale(0.69,1)" y="5.69" font-size="15.9" font-weight="normal" text-anchor="middle" fill="#111" stroke="#111" stroke-width="0.45">D</text>
<text transform="translate(1327.2,464.3) rotate(0) scale(0.69,1)" y="5.69" font-size="15.9" font-weight="normal" text-anchor="middle" fill="#111" stroke="#111" stroke-width="0.45">E</text>
<line x1="736" y1="170" x2="829" y2="170" stroke="#111" stroke-width="1.4"/>
<line x1="736" y1="392" x2="820" y2="392" stroke="#111" stroke-width="1.4"/>
<line x1="746.6" y1="170" x2="746.6" y2="392" stroke="#111" stroke-width="1.4"/>
<polygon points="746.6,170 744.4,179 748.8,179" fill="#111"/>
<polygon points="746.6,392 744.4,383 748.8,383" fill="#111"/>
<line x1="783.6" y1="170" x2="783.6" y2="266" stroke="#111" stroke-width="1.4"/>
<polygon points="783.6,170 781.4,179 785.8,179" fill="#111"/>
<polygon points="783.6,266 781.4,257 785.8,257" fill="#111"/>
<text transform="translate(735.6,281.4) rotate(-90) scale(0.69,1)" y="5.69" font-size="15.9" font-weight="normal" text-anchor="middle" fill="#111" stroke="#111" stroke-width="0.45">H</text>
<text transform="translate(772,218) rotate(-90) scale(0.69,1)" y="5.69" font-size="15.9" font-weight="normal" text-anchor="middle" fill="#111" stroke="#111" stroke-width="0.45">I</text>
<line x1="1078.8" y1="266" x2="1078.8" y2="378" stroke="#111" stroke-width="1.4"/>
<polygon points="1078.8,266 1076.6,275 1081,275" fill="#111"/>
<polygon points="1078.8,378 1076.6,369 1081,369" fill="#111"/>
<text transform="translate(1067.4,322) rotate(-90) scale(0.69,1)" y="5.69" font-size="15.9" font-weight="normal" text-anchor="middle" fill="#111" stroke="#111" stroke-width="0.45">M</text>
<line x1="1504.5" y1="247.2" x2="1550.6" y2="247.2" stroke="#111" stroke-width="1.4"/>
<line x1="1504.5" y1="397" x2="1550.6" y2="397" stroke="#111" stroke-width="1.4"/>
<line x1="1540" y1="247.2" x2="1540" y2="397" stroke="#111" stroke-width="1.4"/>
<polygon points="1540,247.2 1537.8,256.2 1542.2,256.2" fill="#111"/>
<polygon points="1540,397 1537.8,388 1542.2,388" fill="#111"/>
<text transform="translate(1528.8,322) rotate(-90) scale(0.69,1)" y="5.69" font-size="15.9" font-weight="normal" text-anchor="middle" fill="#111" stroke="#111" stroke-width="0.45">G</text>
<line x1="1436.6" y1="210" x2="1436.6" y2="395.5" stroke="#111" stroke-width="1.4"/>
<polygon points="1436.6,247.8 1434.4,256.8 1438.8,256.8" fill="#111"/>
<polygon points="1436.6,395.4 1434.4,386.4 1438.8,386.4" fill="#111"/>
<text transform="translate(1425,217.6) rotate(-90) scale(0.69,1)" y="5.69" font-size="15.9" font-weight="normal" text-anchor="middle" fill="#111" stroke="#111" stroke-width="0.45">N</text>
<path d="M601,651 L328.6,605.4 L120,605.4 L120,808.6 L328.6,808.6 L601,763" stroke="#111" stroke-width="2" fill="none" stroke-linejoin="miter"/>
<line x1="120.3" y1="605.4" x2="120.3" y2="808.6" stroke="#111" stroke-width="2.6"/>
<line x1="149.6" y1="605.4" x2="149.6" y2="808.6" stroke="#111" stroke-width="2"/>
<line x1="169.4" y1="605.4" x2="169.4" y2="808.6" stroke="#111" stroke-width="2"/>
<line x1="322.8" y1="605.4" x2="322.8" y2="808.6" stroke="#111" stroke-width="1.2"/>
<line x1="331.2" y1="605.4" x2="331.2" y2="808.6" stroke="#111" stroke-width="1.2"/>
<text transform="translate(165.2,789.2) rotate(-90)" font-size="16.6" font-weight="bold" fill="#111" stroke="#111" stroke-width="0.5" textLength="36.2" lengthAdjust="spacingAndGlyphs">MADE</text>
<text transform="translate(165.2,737.2) rotate(-90)" font-size="16.6" font-weight="bold" fill="#111" stroke="#111" stroke-width="0.5" textLength="16" lengthAdjust="spacingAndGlyphs">IN</text>
<text transform="translate(165.2,708.2) rotate(-90)" font-size="16.6" font-weight="bold" fill="#111" stroke="#111" stroke-width="0.5" textLength="78" lengthAdjust="spacingAndGlyphs">GERMANY</text>
<line x1="601" y1="651" x2="806.5" y2="651" stroke="#111" stroke-width="2"/>
<line x1="601" y1="763" x2="806.5" y2="763" stroke="#111" stroke-width="2"/>
<line x1="601.2" y1="651" x2="601.2" y2="763" stroke="#111" stroke-width="1.2"/>
<line x1="607.8" y1="651" x2="607.8" y2="763" stroke="#111" stroke-width="1.2"/>
<line x1="975" y1="651" x2="1200" y2="651" stroke="#111" stroke-width="2"/>
<line x1="975" y1="763" x2="1200" y2="763" stroke="#111" stroke-width="2"/>
<path d="M825,631.4 L957,631.4 L973.4,651 L973.4,763 L957,782.6 L825,782.6 L808.2,763 L808.2,651 Z" stroke="#111" stroke-width="2" fill="none" stroke-linejoin="round"/>
<line x1="806.2" y1="651" x2="806.2" y2="763" stroke="#111" stroke-width="1"/>
<line x1="975.4" y1="651" x2="975.4" y2="763" stroke="#111" stroke-width="1"/>
<path d="M959.76,707 L960.77,707.38 L960.06,707.75 L959.35,708.12 L958.65,708.48 L957.93,708.83 L957.56,709.18 L957.55,709.54 L957.54,709.91 L957.52,710.27 L957.5,710.63 L957.48,710.99 L957.46,711.36 L957.43,711.72 L957.41,712.08 L957.38,712.44 L957.35,712.8 L957.31,713.17 L957.28,713.53 L957.24,713.89 L957.2,714.25 L957.16,714.61 L957.12,714.97 L957.08,715.33 L957.03,715.69 L956.98,716.05 L956.93,716.41 L956.88,716.77 L956.82,717.13 L956.77,717.49 L956.71,717.85 L957.07,718.28 L957.7,718.76 L958.33,719.25 L958.95,719.75 L959.57,720.25 L958.48,720.42 L958.79,720.87 L959.09,721.32 L959.39,721.77 L958.99,722.07 L958.52,722.36 L958.06,722.64 L957.66,722.93 L957.95,723.38 L958.24,723.84 L958.52,724.31 L958.62,724.72 L958.14,724.99 L957.67,725.25 L957.19,725.51 L957.02,725.85 L957.29,726.32 L957.56,726.79 L957.82,727.27 L957.66,727.62 L957.18,727.87 L956.69,728.11 L956.2,728.34 L956.25,728.75 L956.5,729.24 L956.75,729.72 L956.99,730.21 L956.58,730.47 L956.09,730.69 L955.59,730.91 L955.13,731.14 L955.36,731.62 L955.59,732.12 L955.81,732.61 L955.88,733.05 L955.38,733.26 L954.87,733.46 L954.37,733.65 L954.13,733.96 L954.34,734.46 L954.55,734.96 L954.75,735.47 L954.57,735.8 L954.06,735.99 L953.55,736.17 L953.03,736.34 L953,736.74 L953.19,737.25 L953.38,737.76 L953.56,738.28 L953.14,738.49 L952.62,738.65 L952.1,738.81 L951.59,738.96 L951.76,739.48 L951.92,739.99 L952.09,740.51 L952.13,740.97 L951.6,741.11 L951.08,741.25 L950.55,741.38 L951.23,742.21 L950.43,742.18 L949.64,742.15 L948.84,742.1 L948.05,742.05 L947.56,742.17 L947.36,742.48 L947.17,742.78 L946.97,743.09 L946.78,743.39 L946.58,743.7 L946.38,744 L946.17,744.3 L945.97,744.6 L945.76,744.9 L945.56,745.2 L945.35,745.5 L945.14,745.79 L944.92,746.09 L944.71,746.38 L944.49,746.67 L944.28,746.96 L944.06,747.25 L943.84,747.54 L943.62,747.83 L943.39,748.12 L943.17,748.4 L942.94,748.69 L942.71,748.97 L942.48,749.25 L942.58,749.8 L942.88,750.54 L943.18,751.27 L943.47,752.01 L943.76,752.76 L942.73,752.36 L942.77,752.9 L942.81,753.45 L942.85,753.99 L942.34,754.05 L941.8,754.06 L941.26,754.07 L940.76,754.12 L940.79,754.66 L940.81,755.21 L940.82,755.75 L940.7,756.16 L940.15,756.15 L939.61,756.14 L939.07,756.13 L938.75,756.34 L938.75,756.88 L938.74,757.42 L938.74,757.97 L938.42,758.19 L937.88,758.16 L937.34,758.12 L936.8,758.08 L936.63,758.47 L936.61,759.01 L936.58,759.55 L936.55,760.1 L936.06,760.11 L935.52,760.06 L934.98,760 L934.47,759.97 L934.42,760.51 L934.38,761.05 L934.32,761.59 L934.17,762 L933.63,761.93 L933.09,761.85 L932.55,761.77 L932.19,761.91 L932.12,762.45 L932.05,762.99 L931.97,763.53 L931.65,763.73 L931.12,763.63 L930.58,763.53 L930.05,763.43 L929.83,763.76 L929.74,764.29 L929.64,764.83 L929.54,765.36 L929.07,765.35 L928.54,765.22 L928.01,765.1 L927.49,764.97 L927.38,765.5 L927.27,766.04 L927.15,766.57 L926.95,766.98 L926.43,766.84 L925.9,766.7 L925.38,766.55 L925.55,767.61 L924.88,767.19 L924.21,766.76 L923.54,766.32 L922.89,765.88 L922.4,765.74 L922.07,765.91 L921.75,766.07 L921.43,766.24 L921.11,766.41 L920.78,766.57 L920.46,766.73 L920.13,766.89 L919.8,767.05 L919.48,767.21 L919.15,767.36 L918.82,767.51 L918.49,767.66 L918.16,767.81 L917.82,767.96 L917.49,768.11 L917.16,768.25 L916.82,768.39 L916.49,768.53 L916.15,768.67 L915.81,768.8 L915.48,768.94 L915.14,769.07 L914.8,769.2 L914.46,769.33 L914.27,769.86 L914.16,770.64 L914.05,771.43 L913.94,772.22 L913.81,773.01 L913.12,772.15 L912.88,772.64 L912.65,773.13 L912.4,773.62 L911.94,773.41 L911.46,773.15 L910.99,772.89 L910.54,772.69 L910.29,773.17 L910.03,773.65 L909.77,774.13 L909.46,774.42 L908.99,774.14 L908.53,773.86 L908.06,773.58 L907.68,773.6 L907.41,774.07 L907.14,774.54 L906.86,775.01 L906.47,775.04 L906.02,774.74 L905.57,774.44 L905.12,774.14 L904.79,774.39 L904.5,774.85 L904.2,775.3 L903.9,775.76 L903.47,775.53 L903.03,775.21 L902.59,774.89 L902.16,774.6 L901.85,775.05 L901.54,775.49 L901.23,775.94 L900.88,776.22 L900.45,775.88 L900.02,775.55 L899.6,775.21 L899.22,775.15 L898.89,775.58 L898.56,776.01 L898.22,776.44 L897.84,776.46 L897.43,776.11 L897.01,775.75 L896.61,775.39 L896.25,775.57 L895.9,775.99 L895.55,776.4 L895.19,776.81 L894.8,776.57 L894.4,776.19 L894,775.82 L893.61,775.45 L893.25,775.86 L892.89,776.26 L892.52,776.66 L892.14,776.93 L891.76,776.54 L891.38,776.15 L891,775.76 L890.62,776.77 L890.25,776.06 L889.88,775.35 L889.52,774.65 L889.17,773.93 L888.82,773.56 L888.46,773.55 L888.09,773.54 L887.73,773.52 L887.37,773.5 L887.01,773.48 L886.64,773.46 L886.28,773.43 L885.92,773.41 L885.56,773.38 L885.2,773.35 L884.83,773.31 L884.47,773.28 L884.11,773.24 L883.75,773.2 L883.39,773.16 L883.03,773.12 L882.67,773.08 L882.31,773.03 L881.95,772.98 L881.59,772.93 L881.23,772.88 L880.87,772.82 L880.51,772.77 L880.15,772.71 L879.72,773.07 L879.24,773.7 L878.75,774.33 L878.25,774.95 L877.75,775.57 L877.58,774.48 L877.13,774.79 L876.68,775.09 L876.23,775.39 L875.93,774.99 L875.64,774.52 L875.36,774.06 L875.07,773.66 L874.62,773.95 L874.16,774.24 L873.69,774.52 L873.28,774.62 L873.01,774.14 L872.75,773.67 L872.49,773.19 L872.15,773.02 L871.68,773.29 L871.21,773.56 L870.73,773.82 L870.38,773.66 L870.13,773.18 L869.89,772.69 L869.66,772.2 L869.25,772.25 L868.76,772.5 L868.28,772.75 L867.79,772.99 L867.53,772.58 L867.31,772.09 L867.09,771.59 L866.86,771.13 L866.38,771.36 L865.88,771.59 L865.39,771.81 L864.95,771.88 L864.74,771.38 L864.54,770.87 L864.35,770.37 L864.04,770.13 L863.54,770.34 L863.04,770.55 L862.53,770.75 L862.2,770.57 L862.01,770.06 L861.83,769.55 L861.66,769.03 L861.26,769 L860.75,769.19 L860.24,769.38 L859.72,769.56 L859.51,769.14 L859.35,768.62 L859.19,768.1 L859.04,767.59 L858.52,767.76 L858.01,767.92 L857.49,768.09 L857.03,768.13 L856.89,767.6 L856.75,767.08 L856.62,766.55 L855.79,767.23 L855.82,766.43 L855.85,765.64 L855.9,764.84 L855.95,764.05 L855.83,763.56 L855.52,763.36 L855.22,763.17 L854.91,762.97 L854.61,762.78 L854.3,762.58 L854,762.38 L853.7,762.17 L853.4,761.97 L853.1,761.76 L852.8,761.56 L852.5,761.35 L852.21,761.14 L851.91,760.92 L851.62,760.71 L851.33,760.49 L851.04,760.28 L850.75,760.06 L850.46,759.84 L850.17,759.62 L849.88,759.39 L849.6,759.17 L849.31,758.94 L849.03,758.71 L848.75,758.48 L848.2,758.58 L847.46,758.88 L846.73,759.18 L845.99,759.47 L845.24,759.76 L845.64,758.73 L845.1,758.77 L844.55,758.81 L844.01,758.85 L843.95,758.34 L843.94,757.8 L843.93,757.26 L843.88,756.76 L843.34,756.79 L842.79,756.81 L842.25,756.82 L841.84,756.7 L841.85,756.15 L841.86,755.61 L841.87,755.07 L841.66,754.75 L841.12,754.75 L840.58,754.74 L840.03,754.74 L839.81,754.42 L839.84,753.88 L839.88,753.34 L839.92,752.8 L839.53,752.63 L838.99,752.61 L838.45,752.58 L837.9,752.55 L837.89,752.06 L837.94,751.52 L838,750.98 L838.03,750.47 L837.49,750.42 L836.95,750.38 L836.41,750.32 L836,750.17 L836.07,749.63 L836.15,749.09 L836.23,748.55 L836.09,748.19 L835.55,748.12 L835.01,748.05 L834.47,747.97 L834.27,747.65 L834.37,747.12 L834.47,746.58 L834.57,746.05 L834.24,745.83 L833.71,745.74 L833.17,745.64 L832.64,745.54 L832.65,745.07 L832.78,744.54 L832.9,744.01 L833.03,743.49 L832.5,743.38 L831.96,743.27 L831.43,743.15 L831.02,742.95 L831.16,742.43 L831.3,741.9 L831.45,741.38 L830.39,741.55 L830.81,740.88 L831.24,740.21 L831.68,739.54 L832.12,738.89 L832.26,738.4 L832.09,738.07 L831.93,737.75 L831.76,737.43 L831.59,737.11 L831.43,736.78 L831.27,736.46 L831.11,736.13 L830.95,735.8 L830.79,735.48 L830.64,735.15 L830.49,734.82 L830.34,734.49 L830.19,734.16 L830.04,733.82 L829.89,733.49 L829.75,733.16 L829.61,732.82 L829.47,732.49 L829.33,732.15 L829.2,731.81 L829.06,731.48 L828.93,731.14 L828.8,730.8 L828.67,730.46 L828.14,730.27 L827.36,730.16 L826.57,730.05 L825.78,729.94 L824.99,729.81 L825.85,729.12 L825.36,728.88 L824.87,728.65 L824.38,728.4 L824.59,727.94 L824.85,727.46 L825.11,726.99 L825.31,726.54 L824.83,726.29 L824.35,726.03 L823.87,725.77 L823.58,725.46 L823.86,724.99 L824.14,724.53 L824.42,724.06 L824.4,723.68 L823.93,723.41 L823.46,723.14 L822.99,722.86 L822.96,722.47 L823.26,722.02 L823.56,721.57 L823.86,721.12 L823.61,720.79 L823.15,720.5 L822.7,720.2 L822.24,719.9 L822.47,719.47 L822.79,719.03 L823.11,718.59 L823.4,718.16 L822.95,717.85 L822.51,717.54 L822.06,717.23 L821.78,716.88 L822.12,716.45 L822.45,716.02 L822.79,715.6 L822.85,715.22 L822.42,714.89 L821.99,714.56 L821.56,714.22 L821.54,713.84 L821.89,713.43 L822.25,713.01 L822.61,712.61 L822.43,712.25 L822.01,711.9 L821.6,711.55 L821.19,711.19 L821.43,710.8 L821.81,710.4 L822.18,710 L822.55,709.61 L822.14,709.25 L821.74,708.89 L821.34,708.52 L821.07,708.14 L821.46,707.76 L821.85,707.38 L822.24,707 L821.23,706.62 L821.94,706.25 L822.65,705.88 L823.35,705.52 L824.07,705.17 L824.44,704.82 L824.45,704.46 L824.46,704.09 L824.48,703.73 L824.5,703.37 L824.52,703.01 L824.54,702.64 L824.57,702.28 L824.59,701.92 L824.62,701.56 L824.65,701.2 L824.69,700.83 L824.72,700.47 L824.76,700.11 L824.8,699.75 L824.84,699.39 L824.88,699.03 L824.92,698.67 L824.97,698.31 L825.02,697.95 L825.07,697.59 L825.12,697.23 L825.18,696.87 L825.23,696.51 L825.29,696.15 L824.93,695.72 L824.3,695.24 L823.67,694.75 L823.05,694.25 L822.43,693.75 L823.52,693.58 L823.21,693.13 L822.91,692.68 L822.61,692.23 L823.01,691.93 L823.48,691.64 L823.94,691.36 L824.34,691.07 L824.05,690.62 L823.76,690.16 L823.48,689.69 L823.38,689.28 L823.86,689.01 L824.33,688.75 L824.81,688.49 L824.98,688.15 L824.71,687.68 L824.44,687.21 L824.18,686.73 L824.34,686.38 L824.82,686.13 L825.31,685.89 L825.8,685.66 L825.75,685.25 L825.5,684.76 L825.25,684.28 L825.01,683.79 L825.42,683.53 L825.91,683.31 L826.41,683.09 L826.87,682.86 L826.64,682.38 L826.41,681.88 L826.19,681.39 L826.12,680.95 L826.62,680.74 L827.13,680.54 L827.63,680.35 L827.87,680.04 L827.66,679.54 L827.45,679.04 L827.25,678.53 L827.43,678.2 L827.94,678.01 L828.45,677.83 L828.97,677.66 L829,677.26 L828.81,676.75 L828.62,676.24 L828.44,675.72 L828.86,675.51 L829.38,675.35 L829.9,675.19 L830.41,675.04 L830.24,674.52 L830.08,674.01 L829.91,673.49 L829.87,673.03 L830.4,672.89 L830.92,672.75 L831.45,672.62 L830.77,671.79 L831.57,671.82 L832.36,671.85 L833.16,671.9 L833.95,671.95 L834.44,671.83 L834.64,671.52 L834.83,671.22 L835.03,670.91 L835.22,670.61 L835.42,670.3 L835.62,670 L835.83,669.7 L836.03,669.4 L836.24,669.1 L836.44,668.8 L836.65,668.5 L836.86,668.21 L837.08,667.91 L837.29,667.62 L837.51,667.33 L837.72,667.04 L837.94,666.75 L838.16,666.46 L838.38,666.17 L838.61,665.88 L838.83,665.6 L839.06,665.31 L839.29,665.03 L839.52,664.75 L839.42,664.2 L839.12,663.46 L838.82,662.73 L838.53,661.99 L838.24,661.24 L839.27,661.64 L839.23,661.1 L839.19,660.55 L839.15,660.01 L839.66,659.95 L840.2,659.94 L840.74,659.93 L841.24,659.88 L841.21,659.34 L841.19,658.79 L841.18,658.25 L841.3,657.84 L841.85,657.85 L842.39,657.86 L842.93,657.87 L843.25,657.66 L843.25,657.12 L843.26,656.58 L843.26,656.03 L843.58,655.81 L844.12,655.84 L844.66,655.88 L845.2,655.92 L845.37,655.53 L845.39,654.99 L845.42,654.45 L845.45,653.9 L845.94,653.89 L846.48,653.94 L847.02,654 L847.53,654.03 L847.58,653.49 L847.62,652.95 L847.68,652.41 L847.83,652 L848.37,652.07 L848.91,652.15 L849.45,652.23 L849.81,652.09 L849.88,651.55 L849.95,651.01 L850.03,650.47 L850.35,650.27 L850.88,650.37 L851.42,650.47 L851.95,650.57 L852.17,650.24 L852.26,649.71 L852.36,649.17 L852.46,648.64 L852.93,648.65 L853.46,648.78 L853.99,648.9 L854.51,649.03 L854.62,648.5 L854.73,647.96 L854.85,647.43 L855.05,647.02 L855.57,647.16 L856.1,647.3 L856.62,647.45 L856.45,646.39 L857.12,646.81 L857.79,647.24 L858.46,647.68 L859.11,648.12 L859.6,648.26 L859.93,648.09 L860.25,647.93 L860.57,647.76 L860.89,647.59 L861.22,647.43 L861.54,647.27 L861.87,647.11 L862.2,646.95 L862.52,646.79 L862.85,646.64 L863.18,646.49 L863.51,646.34 L863.84,646.19 L864.18,646.04 L864.51,645.89 L864.84,645.75 L865.18,645.61 L865.51,645.47 L865.85,645.33 L866.19,645.2 L866.52,645.06 L866.86,644.93 L867.2,644.8 L867.54,644.67 L867.73,644.14 L867.84,643.36 L867.95,642.57 L868.06,641.78 L868.19,640.99 L868.88,641.85 L869.12,641.36 L869.35,640.87 L869.6,640.38 L870.06,640.59 L870.54,640.85 L871.01,641.11 L871.46,641.31 L871.71,640.83 L871.97,640.35 L872.23,639.87 L872.54,639.58 L873.01,639.86 L873.47,640.14 L873.94,640.42 L874.32,640.4 L874.59,639.93 L874.86,639.46 L875.14,638.99 L875.53,638.96 L875.98,639.26 L876.43,639.56 L876.88,639.86 L877.21,639.61 L877.5,639.15 L877.8,638.7 L878.1,638.24 L878.53,638.47 L878.97,638.79 L879.41,639.11 L879.84,639.4 L880.15,638.95 L880.46,638.51 L880.77,638.06 L881.12,637.78 L881.55,638.12 L881.98,638.45 L882.4,638.79 L882.78,638.85 L883.11,638.42 L883.44,637.99 L883.78,637.56 L884.16,637.54 L884.57,637.89 L884.99,638.25 L885.39,638.61 L885.75,638.43 L886.1,638.01 L886.45,637.6 L886.81,637.19 L887.2,637.43 L887.6,637.81 L888,638.18 L888.39,638.55 L888.75,638.14 L889.11,637.74 L889.48,637.34 L889.86,637.07 L890.24,637.46 L890.62,637.85 L891,638.24 L891.38,637.23 L891.75,637.94 L892.12,638.65 L892.48,639.35 L892.83,640.07 L893.18,640.44 L893.54,640.45 L893.91,640.46 L894.27,640.48 L894.63,640.5 L894.99,640.52 L895.36,640.54 L895.72,640.57 L896.08,640.59 L896.44,640.62 L896.8,640.65 L897.17,640.69 L897.53,640.72 L897.89,640.76 L898.25,640.8 L898.61,640.84 L898.97,640.88 L899.33,640.92 L899.69,640.97 L900.05,641.02 L900.41,641.07 L900.77,641.12 L901.13,641.18 L901.49,641.23 L901.85,641.29 L902.28,640.93 L902.76,640.3 L903.25,639.67 L903.75,639.05 L904.25,638.43 L904.42,639.52 L904.87,639.21 L905.32,638.91 L905.77,638.61 L906.07,639.01 L906.36,639.48 L906.64,639.94 L906.93,640.34 L907.38,640.05 L907.84,639.76 L908.31,639.48 L908.72,639.38 L908.99,639.86 L909.25,640.33 L909.51,640.81 L909.85,640.98 L910.32,640.71 L910.79,640.44 L911.27,640.18 L911.62,640.34 L911.87,640.82 L912.11,641.31 L912.34,641.8 L912.75,641.75 L913.24,641.5 L913.72,641.25 L914.21,641.01 L914.47,641.42 L914.69,641.91 L914.91,642.41 L915.14,642.87 L915.62,642.64 L916.12,642.41 L916.61,642.19 L917.05,642.12 L917.26,642.62 L917.46,643.13 L917.65,643.63 L917.96,643.87 L918.46,643.66 L918.96,643.45 L919.47,643.25 L919.8,643.43 L919.99,643.94 L920.17,644.45 L920.34,644.97 L920.74,645 L921.25,644.81 L921.76,644.62 L922.28,644.44 L922.49,644.86 L922.65,645.38 L922.81,645.9 L922.96,646.41 L923.48,646.24 L923.99,646.08 L924.51,645.91 L924.97,645.87 L925.11,646.4 L925.25,646.92 L925.38,647.45 L926.21,646.77 L926.18,647.57 L926.15,648.36 L926.1,649.16 L926.05,649.95 L926.17,650.44 L926.48,650.64 L926.78,650.83 L927.09,651.03 L927.39,651.22 L927.7,651.42 L928,651.62 L928.3,651.83 L928.6,652.03 L928.9,652.24 L929.2,652.44 L929.5,652.65 L929.79,652.86 L930.09,653.08 L930.38,653.29 L930.67,653.51 L930.96,653.72 L931.25,653.94 L931.54,654.16 L931.83,654.38 L932.12,654.61 L932.4,654.83 L932.69,655.06 L932.97,655.29 L933.25,655.52 L933.8,655.42 L934.54,655.12 L935.27,654.82 L936.01,654.53 L936.76,654.24 L936.36,655.27 L936.9,655.23 L937.45,655.19 L937.99,655.15 L938.05,655.66 L938.06,656.2 L938.07,656.74 L938.12,657.24 L938.66,657.21 L939.21,657.19 L939.75,657.18 L940.16,657.3 L940.15,657.85 L940.14,658.39 L940.13,658.93 L940.34,659.25 L940.88,659.25 L941.42,659.26 L941.97,659.26 L942.19,659.58 L942.16,660.12 L942.12,660.66 L942.08,661.2 L942.47,661.37 L943.01,661.39 L943.55,661.42 L944.1,661.45 L944.11,661.94 L944.06,662.48 L944,663.02 L943.97,663.53 L944.51,663.58 L945.05,663.62 L945.59,663.68 L946,663.83 L945.93,664.37 L945.85,664.91 L945.77,665.45 L945.91,665.81 L946.45,665.88 L946.99,665.95 L947.53,666.03 L947.73,666.35 L947.63,666.88 L947.53,667.42 L947.43,667.95 L947.76,668.17 L948.29,668.26 L948.83,668.36 L949.36,668.46 L949.35,668.93 L949.22,669.46 L949.1,669.99 L948.97,670.51 L949.5,670.62 L950.04,670.73 L950.57,670.85 L950.98,671.05 L950.84,671.57 L950.7,672.1 L950.55,672.62 L951.61,672.45 L951.19,673.12 L950.76,673.79 L950.32,674.46 L949.88,675.11 L949.74,675.6 L949.91,675.93 L950.07,676.25 L950.24,676.57 L950.41,676.89 L950.57,677.22 L950.73,677.54 L950.89,677.87 L951.05,678.2 L951.21,678.52 L951.36,678.85 L951.51,679.18 L951.66,679.51 L951.81,679.84 L951.96,680.18 L952.11,680.51 L952.25,680.84 L952.39,681.18 L952.53,681.51 L952.67,681.85 L952.8,682.19 L952.94,682.52 L953.07,682.86 L953.2,683.2 L953.33,683.54 L953.86,683.73 L954.64,683.84 L955.43,683.95 L956.22,684.06 L957.01,684.19 L956.15,684.88 L956.64,685.12 L957.13,685.35 L957.62,685.6 L957.41,686.06 L957.15,686.54 L956.89,687.01 L956.69,687.46 L957.17,687.71 L957.65,687.97 L958.13,688.23 L958.42,688.54 L958.14,689.01 L957.86,689.47 L957.58,689.94 L957.6,690.32 L958.07,690.59 L958.54,690.86 L959.01,691.14 L959.04,691.53 L958.74,691.98 L958.44,692.43 L958.14,692.88 L958.39,693.21 L958.85,693.5 L959.3,693.8 L959.76,694.1 L959.53,694.53 L959.21,694.97 L958.89,695.41 L958.6,695.84 L959.05,696.15 L959.49,696.46 L959.94,696.77 L960.22,697.12 L959.88,697.55 L959.55,697.98 L959.21,698.4 L959.15,698.78 L959.58,699.11 L960.01,699.44 L960.44,699.78 L960.46,700.16 L960.11,700.57 L959.75,700.99 L959.39,701.39 L959.57,701.75 L959.99,702.1 L960.4,702.45 L960.81,702.81 L960.57,703.2 L960.19,703.6 L959.82,704 L959.45,704.39 L959.86,704.75 L960.26,705.11 L960.66,705.48 L960.93,705.86 L960.54,706.24 L960.15,706.62 L959.76,707Z" stroke="#111" stroke-width="1.9" fill="none" stroke-linejoin="round"/>
<circle cx="891.2" cy="707" r="61" stroke="#111" stroke-width="2.1" fill="none"/>
<path d="M822,592.4 L822,572 L829,568.2 L952,568.2 L959.6,572 L959.6,592.4" stroke="#111" stroke-width="1.8" fill="none" stroke-linejoin="round"/>
<rect x="822.4" y="571.4" width="136.8" height="20.8" fill="url(#dots)"/>
<rect x="830.5" y="571.4" width="4" height="20.8" fill="#e6e6e6" stroke="#bdbdbd" stroke-width="0.6" rx="0"/>
<rect x="853" y="571.4" width="9" height="20.8" fill="#e6e6e6" stroke="#bdbdbd" stroke-width="0.6" rx="0"/>
<rect x="887" y="571.4" width="8.6" height="20.8" fill="#e6e6e6" stroke="#bdbdbd" stroke-width="0.6" rx="0"/>
<rect x="919.5" y="571.4" width="7.1" height="20.8" fill="#e6e6e6" stroke="#bdbdbd" stroke-width="0.6" rx="0"/>
<rect x="947" y="571.4" width="3" height="20.8" fill="#e6e6e6" stroke="#bdbdbd" stroke-width="0.6" rx="0"/>
<line x1="822.4" y1="572" x2="829.4" y2="572" stroke="#222" stroke-width="1.1"/>
<line x1="822.4" y1="574.4" x2="829.4" y2="574.4" stroke="#222" stroke-width="1.1"/>
<line x1="822.4" y1="576.8" x2="829.4" y2="576.8" stroke="#222" stroke-width="1.1"/>
<line x1="822.4" y1="579.2" x2="829.4" y2="579.2" stroke="#222" stroke-width="1.1"/>
<line x1="822.4" y1="581.6" x2="829.4" y2="581.6" stroke="#222" stroke-width="1.1"/>
<line x1="822.4" y1="584" x2="829.4" y2="584" stroke="#222" stroke-width="1.1"/>
<line x1="822.4" y1="586.4" x2="829.4" y2="586.4" stroke="#222" stroke-width="1.1"/>
<line x1="822.4" y1="588.8" x2="829.4" y2="588.8" stroke="#222" stroke-width="1.1"/>
<line x1="822.4" y1="591.2" x2="829.4" y2="591.2" stroke="#222" stroke-width="1.1"/>
<line x1="959.2" y1="572" x2="952.2" y2="572" stroke="#222" stroke-width="1.1"/>
<line x1="959.2" y1="574.4" x2="952.2" y2="574.4" stroke="#222" stroke-width="1.1"/>
<line x1="959.2" y1="576.8" x2="952.2" y2="576.8" stroke="#222" stroke-width="1.1"/>
<line x1="959.2" y1="579.2" x2="952.2" y2="579.2" stroke="#222" stroke-width="1.1"/>
<line x1="959.2" y1="581.6" x2="952.2" y2="581.6" stroke="#222" stroke-width="1.1"/>
<line x1="959.2" y1="584" x2="952.2" y2="584" stroke="#222" stroke-width="1.1"/>
<line x1="959.2" y1="586.4" x2="952.2" y2="586.4" stroke="#222" stroke-width="1.1"/>
<line x1="959.2" y1="588.8" x2="952.2" y2="588.8" stroke="#222" stroke-width="1.1"/>
<line x1="959.2" y1="591.2" x2="952.2" y2="591.2" stroke="#222" stroke-width="1.1"/>
<path d="M822,592.4 L822,572 L829,568.2 L952,568.2 L959.6,572 L959.6,592.4" stroke="#111" stroke-width="1.8" fill="none" stroke-linejoin="round"/>
<line x1="822" y1="592.6" x2="959.6" y2="592.6" stroke="#111" stroke-width="1.2"/>
<path d="M825.2,592.6 L825.2,631 M957,592.6 L957,631" stroke="#111" stroke-width="1.8" fill="none"/>
<text transform="translate(838,604) rotate(-90) scale(1.12,1)" y="4.01" font-size="11.2" font-weight="bold" text-anchor="middle" fill="#111" stroke="#111" stroke-width="0.7">R6</text>
<text transform="translate(858,604) rotate(-90) scale(1.12,1)" y="4.01" font-size="11.2" font-weight="bold" text-anchor="middle" fill="#111" stroke="#111" stroke-width="0.7">R5</text>
<text transform="translate(884,604) rotate(-90) scale(1.12,1)" y="4.01" font-size="11.2" font-weight="bold" text-anchor="middle" fill="#111" stroke="#111" stroke-width="0.7">R4</text>
<text transform="translate(911,604) rotate(-90) scale(1.12,1)" y="4.01" font-size="11.2" font-weight="bold" text-anchor="middle" fill="#111" stroke="#111" stroke-width="0.7">R3</text>
<text transform="translate(934.5,604) rotate(-90) scale(1.12,1)" y="4.01" font-size="11.2" font-weight="bold" text-anchor="middle" fill="#111" stroke="#111" stroke-width="0.7">R2</text>
<text transform="translate(951.2,604) rotate(-90) scale(1.12,1)" y="2.65" font-size="7.4" font-weight="bold" text-anchor="middle" fill="#111" stroke="#111" stroke-width="0.7">R1</text>
<rect x="836.8" y="617" width="2.4" height="10" fill="#111" stroke="none" stroke-width="0" rx="0"/>
<rect x="856.8" y="617" width="2.4" height="10" fill="#111" stroke="none" stroke-width="0" rx="0"/>
<rect x="882.8" y="617" width="2.4" height="10" fill="#111" stroke="none" stroke-width="0" rx="0"/>
<rect x="909.8" y="617" width="2.4" height="10" fill="#111" stroke="none" stroke-width="0" rx="0"/>
<rect x="933.3" y="617" width="2.4" height="10" fill="#111" stroke="none" stroke-width="0" rx="0"/>
<rect x="950" y="617" width="2.4" height="10" fill="#111" stroke="none" stroke-width="0" rx="0"/>
<rect x="847.1" y="622" width="1.8" height="5" fill="#111" stroke="none" stroke-width="0" rx="0"/>
<rect x="870.1" y="622" width="1.8" height="5" fill="#111" stroke="none" stroke-width="0" rx="0"/>
<rect x="896.6" y="622" width="1.8" height="5" fill="#111" stroke="none" stroke-width="0" rx="0"/>
<rect x="921.85" y="622" width="1.8" height="5" fill="#111" stroke="none" stroke-width="0" rx="0"/>
<rect x="941.95" y="622" width="1.8" height="5" fill="#111" stroke="none" stroke-width="0" rx="0"/>
<rect x="954.2" y="621" width="2" height="6" fill="#111" stroke="none" stroke-width="0" rx="0"/>
<rect x="836.6" y="626.2" width="120.4" height="4.6" fill="#111" stroke="none" stroke-width="0" rx="0"/>
<line x1="852" y1="626.6" x2="852" y2="629" stroke="#777" stroke-width="0.7"/>
<line x1="856.5" y1="626.6" x2="856.5" y2="629" stroke="#777" stroke-width="0.7"/>
<line x1="861" y1="626.6" x2="861" y2="629" stroke="#777" stroke-width="0.7"/>
<line x1="865.5" y1="626.6" x2="865.5" y2="629" stroke="#777" stroke-width="0.7"/>
<line x1="870" y1="626.6" x2="870" y2="629" stroke="#777" stroke-width="0.7"/>
<line x1="874.5" y1="626.6" x2="874.5" y2="629" stroke="#777" stroke-width="0.7"/>
<line x1="879" y1="626.6" x2="879" y2="629" stroke="#777" stroke-width="0.7"/>
<line x1="883.5" y1="626.6" x2="883.5" y2="629" stroke="#777" stroke-width="0.7"/>
<line x1="888" y1="626.6" x2="888" y2="629" stroke="#777" stroke-width="0.7"/>
<line x1="892.5" y1="626.6" x2="892.5" y2="629" stroke="#777" stroke-width="0.7"/>
<line x1="897" y1="626.6" x2="897" y2="629" stroke="#777" stroke-width="0.7"/>
<line x1="901.5" y1="626.6" x2="901.5" y2="629" stroke="#777" stroke-width="0.7"/>
<line x1="906" y1="626.6" x2="906" y2="629" stroke="#777" stroke-width="0.7"/>
<line x1="910.5" y1="626.6" x2="910.5" y2="629" stroke="#777" stroke-width="0.7"/>
<line x1="915" y1="626.6" x2="915" y2="629" stroke="#777" stroke-width="0.7"/>
<line x1="919.5" y1="626.6" x2="919.5" y2="629" stroke="#777" stroke-width="0.7"/>
<line x1="924" y1="626.6" x2="924" y2="629" stroke="#777" stroke-width="0.7"/>
<line x1="928.5" y1="626.6" x2="928.5" y2="629" stroke="#777" stroke-width="0.7"/>
<line x1="933" y1="626.6" x2="933" y2="629" stroke="#777" stroke-width="0.7"/>
<line x1="937.5" y1="626.6" x2="937.5" y2="629" stroke="#777" stroke-width="0.7"/>
<line x1="942" y1="626.6" x2="942" y2="629" stroke="#777" stroke-width="0.7"/>
<line x1="946.5" y1="626.6" x2="946.5" y2="629" stroke="#777" stroke-width="0.7"/>
<path d="M825.2,782.6 L825.2,809 M956.6,782.6 L956.6,809" stroke="#111" stroke-width="1.8" fill="none"/>
<rect x="822.4" y="809.4" width="136.8" height="30.6" fill="url(#dots)"/>
<rect x="832.5" y="809.4" width="4" height="30.6" fill="#e6e6e6" stroke="#bdbdbd" stroke-width="0.6" rx="0"/>
<rect x="855.5" y="809.4" width="8.5" height="30.6" fill="#e6e6e6" stroke="#bdbdbd" stroke-width="0.6" rx="0"/>
<rect x="887.5" y="809.4" width="9.5" height="30.6" fill="#e6e6e6" stroke="#bdbdbd" stroke-width="0.6" rx="0"/>
<rect x="921" y="809.4" width="8" height="30.6" fill="#e6e6e6" stroke="#bdbdbd" stroke-width="0.6" rx="0"/>
<rect x="946.5" y="809.4" width="3.5" height="30.6" fill="#e6e6e6" stroke="#bdbdbd" stroke-width="0.6" rx="0"/>
<line x1="822.4" y1="810" x2="829.4" y2="810" stroke="#222" stroke-width="1.1"/>
<line x1="822.4" y1="812.4" x2="829.4" y2="812.4" stroke="#222" stroke-width="1.1"/>
<line x1="822.4" y1="814.8" x2="829.4" y2="814.8" stroke="#222" stroke-width="1.1"/>
<line x1="822.4" y1="817.2" x2="829.4" y2="817.2" stroke="#222" stroke-width="1.1"/>
<line x1="822.4" y1="819.6" x2="829.4" y2="819.6" stroke="#222" stroke-width="1.1"/>
<line x1="822.4" y1="822" x2="829.4" y2="822" stroke="#222" stroke-width="1.1"/>
<line x1="822.4" y1="824.4" x2="829.4" y2="824.4" stroke="#222" stroke-width="1.1"/>
<line x1="822.4" y1="826.8" x2="829.4" y2="826.8" stroke="#222" stroke-width="1.1"/>
<line x1="822.4" y1="829.2" x2="829.4" y2="829.2" stroke="#222" stroke-width="1.1"/>
<line x1="822.4" y1="831.6" x2="829.4" y2="831.6" stroke="#222" stroke-width="1.1"/>
<line x1="822.4" y1="834" x2="829.4" y2="834" stroke="#222" stroke-width="1.1"/>
<line x1="822.4" y1="836.4" x2="829.4" y2="836.4" stroke="#222" stroke-width="1.1"/>
<line x1="822.4" y1="838.8" x2="829.4" y2="838.8" stroke="#222" stroke-width="1.1"/>
<line x1="959.2" y1="810" x2="952.2" y2="810" stroke="#222" stroke-width="1.1"/>
<line x1="959.2" y1="812.4" x2="952.2" y2="812.4" stroke="#222" stroke-width="1.1"/>
<line x1="959.2" y1="814.8" x2="952.2" y2="814.8" stroke="#222" stroke-width="1.1"/>
<line x1="959.2" y1="817.2" x2="952.2" y2="817.2" stroke="#222" stroke-width="1.1"/>
<line x1="959.2" y1="819.6" x2="952.2" y2="819.6" stroke="#222" stroke-width="1.1"/>
<line x1="959.2" y1="822" x2="952.2" y2="822" stroke="#222" stroke-width="1.1"/>
<line x1="959.2" y1="824.4" x2="952.2" y2="824.4" stroke="#222" stroke-width="1.1"/>
<line x1="959.2" y1="826.8" x2="952.2" y2="826.8" stroke="#222" stroke-width="1.1"/>
<line x1="959.2" y1="829.2" x2="952.2" y2="829.2" stroke="#222" stroke-width="1.1"/>
<line x1="959.2" y1="831.6" x2="952.2" y2="831.6" stroke="#222" stroke-width="1.1"/>
<line x1="959.2" y1="834" x2="952.2" y2="834" stroke="#222" stroke-width="1.1"/>
<line x1="959.2" y1="836.4" x2="952.2" y2="836.4" stroke="#222" stroke-width="1.1"/>
<line x1="959.2" y1="838.8" x2="952.2" y2="838.8" stroke="#222" stroke-width="1.1"/>
<path d="M825,809 L822,810.6 L822,839.4 L829,843.4 L953,843.4 L959.6,839.4 L959.6,810.6 L956.8,809" stroke="#111" stroke-width="1.8" fill="none" stroke-linejoin="round"/>
<line x1="824" y1="809" x2="958" y2="809" stroke="#444" stroke-width="1"/>
<path d="M838,843.4 L838,847.6 L943.6,847.6 L943.6,843.4" stroke="#111" stroke-width="1.6" fill="none"/>
<rect x="838.8" y="862.2" width="104" height="12.8" fill="url(#dots)"/>
<rect x="858" y="862.2" width="6.5" height="12.8" fill="#e6e6e6" stroke="#bdbdbd" stroke-width="0.6" rx="0"/>
<rect x="881.5" y="862.2" width="8.5" height="12.8" fill="#e6e6e6" stroke="#bdbdbd" stroke-width="0.6" rx="0"/>
<rect x="907" y="862.2" width="9" height="12.8" fill="#e6e6e6" stroke="#bdbdbd" stroke-width="0.6" rx="0"/>
<rect x="930" y="862.2" width="6" height="12.8" fill="#e6e6e6" stroke="#bdbdbd" stroke-width="0.6" rx="0"/>
<line x1="838.8" y1="862.8" x2="843.8" y2="862.8" stroke="#222" stroke-width="1.1"/>
<line x1="838.8" y1="865.2" x2="843.8" y2="865.2" stroke="#222" stroke-width="1.1"/>
<line x1="838.8" y1="867.6" x2="843.8" y2="867.6" stroke="#222" stroke-width="1.1"/>
<line x1="838.8" y1="870" x2="843.8" y2="870" stroke="#222" stroke-width="1.1"/>
<line x1="838.8" y1="872.4" x2="843.8" y2="872.4" stroke="#222" stroke-width="1.1"/>
<line x1="942.8" y1="862.8" x2="937.8" y2="862.8" stroke="#222" stroke-width="1.1"/>
<line x1="942.8" y1="865.2" x2="937.8" y2="865.2" stroke="#222" stroke-width="1.1"/>
<line x1="942.8" y1="867.6" x2="937.8" y2="867.6" stroke="#222" stroke-width="1.1"/>
<line x1="942.8" y1="870" x2="937.8" y2="870" stroke="#222" stroke-width="1.1"/>
<line x1="942.8" y1="872.4" x2="937.8" y2="872.4" stroke="#222" stroke-width="1.1"/>
<path d="M840.6,847.6 L840.6,861 L838.6,862.6 L838.6,874.6 L844.6,877.6 L937.4,877.6 L943,874.6 L943,862.6 L941.2,861 L941.2,847.6" stroke="#111" stroke-width="1.7" fill="none" stroke-linejoin="round"/>
<line x1="844" y1="877.8" x2="938" y2="877.8" stroke="#111" stroke-width="2"/>
<text transform="translate(851,855.2) rotate(-90) scale(1.12,1)" y="4.87" font-size="13.6" font-weight="bold" text-anchor="middle" fill="#111" stroke="#111" stroke-width="0.6">5</text>
<text transform="translate(868,855.2) rotate(-90) scale(1.12,1)" y="4.87" font-size="13.6" font-weight="bold" text-anchor="middle" fill="#111" stroke="#111" stroke-width="0.6">4</text>
<text transform="translate(889.5,855.2) rotate(-90) scale(1.12,1)" y="4.87" font-size="13.6" font-weight="bold" text-anchor="middle" fill="#111" stroke="#111" stroke-width="0.6">3</text>
<text transform="translate(911,855.2) rotate(-90) scale(1.12,1)" y="4.87" font-size="13.6" font-weight="bold" text-anchor="middle" fill="#111" stroke="#111" stroke-width="0.6">2</text>
<text transform="translate(930,855.2) rotate(-90) scale(1.12,1)" y="4.87" font-size="13.6" font-weight="bold" text-anchor="middle" fill="#111" stroke="#111" stroke-width="0.6">1</text>
<rect x="843.8" y="849.4" width="2.4" height="11.4" fill="#111" stroke="none" stroke-width="0" rx="0"/>
<rect x="857.8" y="849.4" width="2.4" height="11.4" fill="#111" stroke="none" stroke-width="0" rx="0"/>
<rect x="877.3" y="849.4" width="2.4" height="11.4" fill="#111" stroke="none" stroke-width="0" rx="0"/>
<rect x="899.8" y="849.4" width="2.4" height="11.4" fill="#111" stroke="none" stroke-width="0" rx="0"/>
<rect x="920.3" y="849.4" width="2.4" height="11.4" fill="#111" stroke="none" stroke-width="0" rx="0"/>
<rect x="938.2" y="849" width="2.2" height="12" fill="#111" stroke="none" stroke-width="0" rx="0"/>
<rect x="841.2" y="852" width="1.6" height="6" fill="#111" stroke="none" stroke-width="0" rx="0"/>
<path d="M1199,651 Q1207,650 1211,643 Q1215,635 1219,633 L1280,632.8 Q1288,631.6 1296,632.8 L1455.6,633 L1455.6,780.6 L1298,780.6 Q1288,782.2 1280,780.8 L1219,780.6 Q1215,779 1211,771 Q1207,763.6 1199,762.6" stroke="#111" stroke-width="2" fill="none" stroke-linejoin="round"/>
<line x1="1199" y1="651" x2="1199" y2="763" stroke="#111" stroke-width="1.1"/>
<line x1="1209.4" y1="645.5" x2="1209.4" y2="768.5" stroke="#111" stroke-width="2.6"/>
<line x1="1302.6" y1="633" x2="1302.6" y2="781" stroke="#111" stroke-width="1.3"/>
<line x1="1322.6" y1="633" x2="1322.6" y2="781" stroke="#111" stroke-width="1.7"/>
<path d="M1293.8,633.4 L1293.8,684 Q1293,694.4 1270,694.6 L1226,694.6 Q1218.6,694.6 1218.2,688 L1217.8,680" stroke="#111" stroke-width="1.8" fill="none"/>
<line x1="1222" y1="690.6" x2="1290" y2="690.6" stroke="#111" stroke-width="1.1"/>
<path d="M1293.8,780.4 L1293.8,730 Q1293,719.6 1270,719.4 L1226,719.4 Q1218.6,719.4 1218.2,726 L1217.8,734" stroke="#111" stroke-width="1.8" fill="none"/>
<line x1="1222" y1="723.6" x2="1290" y2="723.6" stroke="#111" stroke-width="1.1"/>
<path d="M1216.5,640 L1278.7,640 Q1283.2,640 1283.2,644.5 L1283.2,644.5 Q1283.2,649 1278.7,649 L1216.5,649" stroke="#111" stroke-width="2" fill="none" stroke-linejoin="round"/>
<path d="M1216.5,640 Q1215.1,644.5 1216.5,649" stroke="#111" stroke-width="1.6" fill="none"/>
<path d="M1221.5,637.3 L1272.7,637.3" stroke="#111" stroke-width="1.5" fill="none"/>
<path d="M1274.7,637.5 Q1281.6,638.1 1281.4,645.5 L1281.4,644.5" stroke="#111" stroke-width="1.1" fill="none"/>
<path d="M1216.5,662.6 L1276.8,662.6 Q1283.2,662.6 1283.2,669 L1283.2,673.6 Q1283.2,680 1276.8,680 L1216.5,680" stroke="#111" stroke-width="2" fill="none" stroke-linejoin="round"/>
<path d="M1216.5,662.6 Q1215.1,671.3 1216.5,680" stroke="#111" stroke-width="1.6" fill="none"/>
<path d="M1221.5,659.9 L1272.7,659.9" stroke="#111" stroke-width="1.5" fill="none"/>
<path d="M1274.7,660.1 Q1281.6,660.7 1281.4,670 L1281.4,673.6" stroke="#111" stroke-width="1.1" fill="none"/>
<path d="M1216.5,734 L1276.8,734 Q1283.2,734 1283.2,740.4 L1283.2,745 Q1283.2,751.4 1276.8,751.4 L1216.5,751.4" stroke="#111" stroke-width="2" fill="none" stroke-linejoin="round"/>
<path d="M1216.5,734 Q1215.1,742.7 1216.5,751.4" stroke="#111" stroke-width="1.6" fill="none"/>
<path d="M1221.5,754.1 L1272.7,754.1" stroke="#111" stroke-width="1.5" fill="none"/>
<path d="M1274.7,753.9 Q1281.6,753.3 1281.4,744 L1281.4,740.4" stroke="#111" stroke-width="1.1" fill="none"/>
<path d="M1216.5,765 L1278.7,765 Q1283.2,765 1283.2,769.5 L1283.2,769.5 Q1283.2,774 1278.7,774 L1216.5,774" stroke="#111" stroke-width="2" fill="none" stroke-linejoin="round"/>
<path d="M1216.5,765 Q1215.1,769.5 1216.5,774" stroke="#111" stroke-width="1.6" fill="none"/>
<path d="M1221.5,776.7 L1272.7,776.7" stroke="#111" stroke-width="1.5" fill="none"/>
<path d="M1274.7,776.5 Q1281.6,775.9 1281.4,768.5 L1281.4,769.5" stroke="#111" stroke-width="1.1" fill="none"/>
<line x1="1217.6" y1="649" x2="1217.6" y2="662.6" stroke="#111" stroke-width="1.6"/>
<line x1="1217.6" y1="751.4" x2="1217.6" y2="765" stroke="#111" stroke-width="1.6"/>
<line x1="1217.6" y1="774" x2="1217.6" y2="780" stroke="#111" stroke-width="1.6"/>
<line x1="1217.6" y1="634" x2="1217.6" y2="640" stroke="#111" stroke-width="1.6"/>
<line x1="1228.6" y1="694.6" x2="1228.6" y2="719.4" stroke="#111" stroke-width="1.5"/>
<line x1="1265.6" y1="694.6" x2="1265.6" y2="719.4" stroke="#111" stroke-width="1.5"/>
<circle cx="1242" cy="706.8" r="10.2" stroke="#111" stroke-width="2.2" fill="none"/>
<line x1="1242" y1="697" x2="1242" y2="716.6" stroke="#111" stroke-width="2.6"/>
<g clip-path="url(#cl_ring2)">
<text transform="translate(1317.7,641) rotate(-90) scale(0.92,1)" font-size="14.8" font-weight="bold" fill="#111" stroke="#111" stroke-width="0.8">20</text>
<text transform="translate(1317.7,774.6) rotate(-90) scale(0.92,1)" font-size="14.8" font-weight="bold" text-anchor="end" fill="#111" stroke="#111" stroke-width="0.8">6</text>
</g>
<rect x="1305.8" y="651.6" width="13" height="11.6" fill="none" stroke="#111" stroke-width="1.5" rx="1.6"/>
<text transform="translate(1312.6,684.2) rotate(-90) scale(0.96,1)" y="5.16" font-size="14.4" font-weight="bold" text-anchor="middle" fill="#111" stroke="#111" stroke-width="0.8">12</text>
<rect x="1305.8" y="700.6" width="13" height="16" fill="none" stroke="#111" stroke-width="1.5" rx="1.6"/>
<text transform="translate(1312.4,747) rotate(-90) scale(0.92,1)" y="5.3" font-size="14.8" font-weight="bold" text-anchor="middle" fill="#111" stroke="#111" stroke-width="0.8">8</text>
<circle cx="1330" cy="706.6" r="3.8" stroke="#111" stroke-width="1.4" fill="none"/>
<text transform="translate(1394.2,743.4) rotate(-90)" font-size="14.6" font-weight="bold" fill="#111" stroke="#111" stroke-width="0.9" textLength="72.6" lengthAdjust="spacingAndGlyphs">5-25x56 LR</text>
<rect x="1446.2" y="687.4" width="2.8" height="9.6" fill="#111" stroke="none" stroke-width="0" rx="0"/>
<rect x="1446" y="716.4" width="2.8" height="10.4" fill="#111" stroke="none" stroke-width="0" rx="0"/>
<rect x="1442.2" y="720.2" width="10.4" height="2.8" fill="#111" stroke="none" stroke-width="0" rx="0"/>
<path d="M1455.6,639 L1482.5,639 M1455.6,775.4 L1482.5,775.4" stroke="#111" stroke-width="2" fill="none"/>
<path d="M1494.4,635.6 L1482.6,635.6 L1482.6,778.6 L1494.4,778.6" stroke="#111" stroke-width="2" fill="none"/>
<rect x="1494.4" y="631.6" width="9.4" height="150.8" fill="#111" stroke="none" stroke-width="0" rx="1.6"/>
<rect x="1497.2" y="639.4" width="4.8" height="0.7" fill="#bbb" stroke="none" stroke-width="0" rx="0"/>
<rect x="1496.7" y="640.7" width="5.6" height="3.56" fill="#e6e6e6" stroke="none" stroke-width="0" rx="0"/>
<rect x="1497.4" y="646.78" width="4" height="2.21" fill="#e6e6e6" stroke="none" stroke-width="0" rx="0"/>
<rect x="1497.2" y="645.3" width="4.8" height="0.51" fill="#bbb" stroke="none" stroke-width="0" rx="0"/>
<rect x="1497.2" y="650.19" width="4.8" height="0.59" fill="#bbb" stroke="none" stroke-width="0" rx="0"/>
<rect x="1496.7" y="651.88" width="5.6" height="5" fill="#e6e6e6" stroke="none" stroke-width="0" rx="0"/>
<rect x="1497.4" y="660.25" width="4" height="2.86" fill="#e6e6e6" stroke="none" stroke-width="0" rx="0"/>
<rect x="1497.2" y="658.29" width="4.8" height="0.69" fill="#bbb" stroke="none" stroke-width="0" rx="0"/>
<rect x="1497.2" y="664.65" width="4.8" height="0.74" fill="#bbb" stroke="none" stroke-width="0" rx="0"/>
<rect x="1496.7" y="666.77" width="5.6" height="6.11" fill="#e6e6e6" stroke="none" stroke-width="0" rx="0"/>
<rect x="1497.4" y="676.87" width="4" height="3.32" fill="#e6e6e6" stroke="none" stroke-width="0" rx="0"/>
<rect x="1497.2" y="674.56" width="4.8" height="0.81" fill="#bbb" stroke="none" stroke-width="0" rx="0"/>
<rect x="1497.2" y="681.95" width="4.8" height="0.85" fill="#bbb" stroke="none" stroke-width="0" rx="0"/>
<rect x="1496.7" y="684.37" width="5.6" height="6.8" fill="#e6e6e6" stroke="none" stroke-width="0" rx="0"/>
<rect x="1497.4" y="695.51" width="4" height="3.56" fill="#e6e6e6" stroke="none" stroke-width="0" rx="0"/>
<rect x="1497.2" y="693" width="4.8" height="0.88" fill="#bbb" stroke="none" stroke-width="0" rx="0"/>
<rect x="1497.2" y="700.94" width="4.8" height="0.9" fill="#bbb" stroke="none" stroke-width="0" rx="0"/>
<rect x="1496.7" y="703.48" width="5.6" height="7.04" fill="#e6e6e6" stroke="none" stroke-width="0" rx="0"/>
<rect x="1497.4" y="714.92" width="4" height="3.56" fill="#e6e6e6" stroke="none" stroke-width="0" rx="0"/>
<rect x="1497.2" y="712.39" width="4.8" height="0.9" fill="#bbb" stroke="none" stroke-width="0" rx="0"/>
<rect x="1497.2" y="720.34" width="4.8" height="0.88" fill="#bbb" stroke="none" stroke-width="0" rx="0"/>
<rect x="1496.7" y="722.83" width="5.6" height="6.8" fill="#e6e6e6" stroke="none" stroke-width="0" rx="0"/>
<rect x="1497.4" y="733.81" width="4" height="3.32" fill="#e6e6e6" stroke="none" stroke-width="0" rx="0"/>
<rect x="1497.2" y="731.41" width="4.8" height="0.85" fill="#bbb" stroke="none" stroke-width="0" rx="0"/>
<rect x="1497.2" y="738.84" width="4.8" height="0.81" fill="#bbb" stroke="none" stroke-width="0" rx="0"/>
<rect x="1496.7" y="741.12" width="5.6" height="6.11" fill="#e6e6e6" stroke="none" stroke-width="0" rx="0"/>
<rect x="1497.4" y="750.88" width="4" height="2.86" fill="#e6e6e6" stroke="none" stroke-width="0" rx="0"/>
<rect x="1497.2" y="748.8" width="4.8" height="0.74" fill="#bbb" stroke="none" stroke-width="0" rx="0"/>
<rect x="1497.2" y="755.19" width="4.8" height="0.68" fill="#bbb" stroke="none" stroke-width="0" rx="0"/>
<rect x="1496.7" y="757.12" width="5.6" height="5" fill="#e6e6e6" stroke="none" stroke-width="0" rx="0"/>
<rect x="1497.4" y="765.01" width="4" height="2.21" fill="#e6e6e6" stroke="none" stroke-width="0" rx="0"/>
<rect x="1497.2" y="763.37" width="4.8" height="0.59" fill="#bbb" stroke="none" stroke-width="0" rx="0"/>
<rect x="1497.2" y="768.31" width="4.8" height="0.51" fill="#bbb" stroke="none" stroke-width="0" rx="0"/>
<rect x="1496.7" y="769.74" width="5.6" height="3.56" fill="#e6e6e6" stroke="none" stroke-width="0" rx="0"/>
<rect x="1497.2" y="774" width="4.8" height="0.7" fill="#bbb" stroke="none" stroke-width="0" rx="0"/>
<line x1="763" y1="568.4" x2="828" y2="568.4" stroke="#111" stroke-width="1.4"/>
<line x1="763.6" y1="878.4" x2="1029" y2="878.4" stroke="#111" stroke-width="1.4"/>
<line x1="774" y1="568.4" x2="774" y2="878.4" stroke="#111" stroke-width="1.4"/>
<polygon points="774,568.4 771.8,577.4 776.2,577.4" fill="#111"/>
<polygon points="774,878.4 771.8,869.4 776.2,869.4" fill="#111"/>
<text transform="translate(762.4,722) rotate(-90) scale(0.69,1)" y="5.69" font-size="15.9" font-weight="normal" text-anchor="middle" fill="#111" stroke="#111" stroke-width="0.45">J</text>
<line x1="953" y1="568.4" x2="1028.6" y2="568.4" stroke="#111" stroke-width="1.4"/>
<line x1="1018.6" y1="568.4" x2="1018.6" y2="651" stroke="#111" stroke-width="1.4"/>
<polygon points="1018.6,568.4 1016.4,577.4 1020.8,577.4" fill="#111"/>
<polygon points="1018.6,651 1016.4,642 1020.8,642" fill="#111"/>
<line x1="1018.6" y1="763" x2="1018.6" y2="878.4" stroke="#111" stroke-width="1.4"/>
<polygon points="1018.6,763 1016.4,772 1020.8,772" fill="#111"/>
<polygon points="1018.6,878.4 1016.4,869.4 1020.8,869.4" fill="#111"/>
<text transform="translate(1007,609) rotate(-90) scale(0.69,1)" y="5.69" font-size="15.9" font-weight="normal" text-anchor="middle" fill="#111" stroke="#111" stroke-width="0.45">K</text>
<text transform="translate(1008,820.4) rotate(-90) scale(0.69,1)" y="5.69" font-size="15.9" font-weight="normal" text-anchor="middle" fill="#111" stroke="#111" stroke-width="0.45">L</text>
<line x1="238.6" y1="922.4" x2="238.6" y2="1176" stroke="#adadad" stroke-width="1.2"/>
<line x1="331.4" y1="922.4" x2="331.4" y2="1176" stroke="#adadad" stroke-width="1.2"/>
<line x1="426.6" y1="922.4" x2="426.6" y2="1176" stroke="#adadad" stroke-width="1.2"/>
<line x1="520.6" y1="922.4" x2="520.6" y2="1176" stroke="#adadad" stroke-width="1.2"/>
<line x1="614.4" y1="922.4" x2="614.4" y2="1176" stroke="#adadad" stroke-width="1.2"/>
<line x1="708" y1="922.4" x2="708" y2="1176" stroke="#adadad" stroke-width="1.2"/>
<line x1="799.2" y1="922.4" x2="799.2" y2="1176" stroke="#adadad" stroke-width="1.2"/>
<line x1="893" y1="922.4" x2="893" y2="1176" stroke="#adadad" stroke-width="1.2"/>
<line x1="986.6" y1="922.4" x2="986.6" y2="1176" stroke="#adadad" stroke-width="1.2"/>
<line x1="1080.6" y1="922.4" x2="1080.6" y2="1176" stroke="#adadad" stroke-width="1.2"/>
<line x1="1174" y1="922.4" x2="1174" y2="1176" stroke="#adadad" stroke-width="1.2"/>
<line x1="1268" y1="922.4" x2="1268" y2="1176" stroke="#adadad" stroke-width="1.2"/>
<line x1="1362" y1="922.4" x2="1362" y2="1176" stroke="#adadad" stroke-width="1.2"/>
<line x1="1452.6" y1="922.4" x2="1452.6" y2="1176" stroke="#adadad" stroke-width="1.2"/>
<line x1="64.4" y1="973.4" x2="1543.6" y2="973.4" stroke="#adadad" stroke-width="1.2"/>
<line x1="64.4" y1="1024" x2="1543.6" y2="1024" stroke="#adadad" stroke-width="1.2"/>
<line x1="64.4" y1="1074.6" x2="1543.6" y2="1074.6" stroke="#adadad" stroke-width="1.2"/>
<line x1="64.4" y1="1125.4" x2="1543.6" y2="1125.4" stroke="#adadad" stroke-width="1.2"/>
<text transform="translate(285,948.8) rotate(0) scale(0.66,1)" y="6.23" font-size="17.4" font-weight="normal" text-anchor="middle" fill="#555" stroke="#555" stroke-width="0.5">A</text>
<text transform="translate(379,948.8) rotate(0) scale(0.66,1)" y="6.23" font-size="17.4" font-weight="normal" text-anchor="middle" fill="#555" stroke="#555" stroke-width="0.5">B</text>
<text transform="translate(473.6,948.8) rotate(0) scale(0.66,1)" y="6.23" font-size="17.4" font-weight="normal" text-anchor="middle" fill="#555" stroke="#555" stroke-width="0.5">C</text>
<text transform="translate(567.5,948.8) rotate(0) scale(0.66,1)" y="6.23" font-size="17.4" font-weight="normal" text-anchor="middle" fill="#555" stroke="#555" stroke-width="0.5">D</text>
<text transform="translate(661.2,948.8) rotate(0) scale(0.66,1)" y="6.23" font-size="17.4" font-weight="normal" text-anchor="middle" fill="#555" stroke="#555" stroke-width="0.5">E</text>
<text transform="translate(753.6,948.8) rotate(0) scale(0.66,1)" y="6.23" font-size="17.4" font-weight="normal" text-anchor="middle" fill="#555" stroke="#555" stroke-width="0.5">F</text>
<text transform="translate(846.1,948.8) rotate(0) scale(0.66,1)" y="6.23" font-size="17.4" font-weight="normal" text-anchor="middle" fill="#555" stroke="#555" stroke-width="0.5">G</text>
<text transform="translate(939.8,948.8) rotate(0) scale(0.66,1)" y="6.23" font-size="17.4" font-weight="normal" text-anchor="middle" fill="#555" stroke="#555" stroke-width="0.5">H</text>
<text transform="translate(1033.6,948.8) rotate(0) scale(0.66,1)" y="6.23" font-size="17.4" font-weight="normal" text-anchor="middle" fill="#555" stroke="#555" stroke-width="0.5">I</text>
<text transform="translate(1127.3,948.8) rotate(0) scale(0.66,1)" y="6.23" font-size="17.4" font-weight="normal" text-anchor="middle" fill="#555" stroke="#555" stroke-width="0.5">J</text>
<text transform="translate(1221,948.8) rotate(0) scale(0.66,1)" y="6.23" font-size="17.4" font-weight="normal" text-anchor="middle" fill="#555" stroke="#555" stroke-width="0.5">K</text>
<text transform="translate(1315,948.8) rotate(0) scale(0.66,1)" y="6.23" font-size="17.4" font-weight="normal" text-anchor="middle" fill="#555" stroke="#555" stroke-width="0.5">L</text>
<text transform="translate(1407.3,948.8) rotate(0) scale(0.66,1)" y="6.23" font-size="17.4" font-weight="normal" text-anchor="middle" fill="#555" stroke="#555" stroke-width="0.5">M</text>
<text transform="translate(1498.3,948.8) rotate(0) scale(0.66,1)" y="6.23" font-size="17.4" font-weight="normal" text-anchor="middle" fill="#555" stroke="#555" stroke-width="0.5">N</text>
<text transform="translate(76.4,999.6) rotate(0) scale(0.7,1)" y="6.01" font-size="16.8" font-weight="normal" text-anchor="start" fill="#555" stroke="#555" stroke-width="0.35">1-5x24</text>
<text transform="translate(250,999.6) rotate(0) scale(0.7,1)" y="6.01" font-size="16.8" font-weight="normal" text-anchor="start" fill="#555" stroke="#555" stroke-width="0.35">284</text>
<text transform="translate(342.8,999.6) rotate(0) scale(0.7,1)" y="6.01" font-size="16.8" font-weight="normal" text-anchor="start" fill="#555" stroke="#555" stroke-width="0.35">89,7</text>
<text transform="translate(438,999.6) rotate(0) scale(0.7,1)" y="6.01" font-size="16.8" font-weight="normal" text-anchor="start" fill="#555" stroke="#555" stroke-width="0.35">-</text>
<text transform="translate(532,999.6) rotate(0) scale(0.7,1)" y="6.01" font-size="16.8" font-weight="normal" text-anchor="start" fill="#555" stroke="#555" stroke-width="0.35">64,4</text>
<text transform="translate(625.8,999.6) rotate(0) scale(0.7,1)" y="6.01" font-size="16.8" font-weight="normal" text-anchor="start" fill="#555" stroke="#555" stroke-width="0.35">79,6</text>
<text transform="translate(719.4,999.6) rotate(0) scale(0.7,1)" y="6.01" font-size="16.8" font-weight="normal" text-anchor="start" fill="#555" stroke="#555" stroke-width="0.35">-</text>
<text transform="translate(810.6,999.6) rotate(0) scale(0.7,1)" y="6.01" font-size="16.8" font-weight="normal" text-anchor="start" fill="#555" stroke="#555" stroke-width="0.35">45,8</text>
<text transform="translate(904.4,999.6) rotate(0) scale(0.7,1)" y="6.01" font-size="16.8" font-weight="normal" text-anchor="start" fill="#555" stroke="#555" stroke-width="0.35">46,4</text>
<text transform="translate(998,999.6) rotate(0) scale(0.7,1)" y="6.01" font-size="16.8" font-weight="normal" text-anchor="start" fill="#555" stroke="#555" stroke-width="0.35">15,2</text>
<text transform="translate(1092,999.6) rotate(0) scale(0.7,1)" y="6.01" font-size="16.8" font-weight="normal" text-anchor="start" fill="#555" stroke="#555" stroke-width="0.35">63,6</text>
<text transform="translate(1185.4,999.6) rotate(0) scale(0.7,1)" y="6.01" font-size="16.8" font-weight="normal" text-anchor="start" fill="#555" stroke="#555" stroke-width="0.35">15,2</text>
<text transform="translate(1279.4,999.6) rotate(0) scale(0.7,1)" y="6.01" font-size="16.8" font-weight="normal" text-anchor="start" fill="#555" stroke="#555" stroke-width="0.35">18,5</text>
<text transform="translate(1373.4,999.6) rotate(0) scale(0.7,1)" y="6.01" font-size="16.8" font-weight="normal" text-anchor="start" fill="#555" stroke="#555" stroke-width="0.35">30</text>
<text transform="translate(1464,999.6) rotate(0) scale(0.7,1)" y="6.01" font-size="16.8" font-weight="normal" text-anchor="start" fill="#555" stroke="#555" stroke-width="0.35">45</text>
<text transform="translate(76.4,1050.2) rotate(0) scale(0.7,1)" y="6.01" font-size="16.8" font-weight="normal" text-anchor="start" fill="#555" stroke="#555" stroke-width="0.35">2-10x50</text>
<text transform="translate(250,1050.2) rotate(0) scale(0.7,1)" y="6.01" font-size="16.8" font-weight="normal" text-anchor="start" fill="#555" stroke="#555" stroke-width="0.35">334</text>
<text transform="translate(342.8,1050.2) rotate(0) scale(0.7,1)" y="6.01" font-size="16.8" font-weight="normal" text-anchor="start" fill="#555" stroke="#555" stroke-width="0.35">95</text>
<text transform="translate(438,1050.2) rotate(0) scale(0.7,1)" y="6.01" font-size="16.8" font-weight="normal" text-anchor="start" fill="#555" stroke="#555" stroke-width="0.35">44,6</text>
<text transform="translate(532,1050.2) rotate(0) scale(0.7,1)" y="6.01" font-size="16.8" font-weight="normal" text-anchor="start" fill="#555" stroke="#555" stroke-width="0.35">64,4</text>
<text transform="translate(625.8,1050.2) rotate(0) scale(0.7,1)" y="6.01" font-size="16.8" font-weight="normal" text-anchor="start" fill="#555" stroke="#555" stroke-width="0.35">79,6</text>
<text transform="translate(719.4,1050.2) rotate(0) scale(0.7,1)" y="6.01" font-size="16.8" font-weight="normal" text-anchor="start" fill="#555" stroke="#555" stroke-width="0.35">57</text>
<text transform="translate(810.6,1050.2) rotate(0) scale(0.7,1)" y="6.01" font-size="16.8" font-weight="normal" text-anchor="start" fill="#555" stroke="#555" stroke-width="0.35">45,8</text>
<text transform="translate(904.4,1050.2) rotate(0) scale(0.7,1)" y="6.01" font-size="16.8" font-weight="normal" text-anchor="start" fill="#555" stroke="#555" stroke-width="0.35">46,4</text>
<text transform="translate(998,1050.2) rotate(0) scale(0.7,1)" y="6.01" font-size="16.8" font-weight="normal" text-anchor="start" fill="#555" stroke="#555" stroke-width="0.35">15,2</text>
<text transform="translate(1092,1050.2) rotate(0) scale(0.7,1)" y="6.01" font-size="16.8" font-weight="normal" text-anchor="start" fill="#555" stroke="#555" stroke-width="0.35">63,6</text>
<text transform="translate(1185.4,1050.2) rotate(0) scale(0.7,1)" y="6.01" font-size="16.8" font-weight="normal" text-anchor="start" fill="#555" stroke="#555" stroke-width="0.35">15,2</text>
<text transform="translate(1279.4,1050.2) rotate(0) scale(0.7,1)" y="6.01" font-size="16.8" font-weight="normal" text-anchor="start" fill="#555" stroke="#555" stroke-width="0.35">18,5</text>
<text transform="translate(1373.4,1050.2) rotate(0) scale(0.7,1)" y="6.01" font-size="16.8" font-weight="normal" text-anchor="start" fill="#555" stroke="#555" stroke-width="0.35">30</text>
<text transform="translate(1464,1050.2) rotate(0) scale(0.7,1)" y="6.01" font-size="16.8" font-weight="normal" text-anchor="start" fill="#555" stroke="#555" stroke-width="0.35">45</text>
<text transform="translate(76.4,1100.8) rotate(0) scale(0.7,1)" y="6.01" font-size="16.8" font-weight="normal" text-anchor="start" fill="#555" stroke="#555" stroke-width="0.35">3-15x56</text>
<text transform="translate(250,1100.8) rotate(0) scale(0.7,1)" y="6.01" font-size="16.8" font-weight="normal" text-anchor="start" fill="#555" stroke="#555" stroke-width="0.35">371</text>
<text transform="translate(342.8,1100.8) rotate(0) scale(0.7,1)" y="6.01" font-size="16.8" font-weight="normal" text-anchor="start" fill="#555" stroke="#555" stroke-width="0.35">124,5</text>
<text transform="translate(438,1100.8) rotate(0) scale(0.7,1)" y="6.01" font-size="16.8" font-weight="normal" text-anchor="start" fill="#555" stroke="#555" stroke-width="0.35">43,1</text>
<text transform="translate(532,1100.8) rotate(0) scale(0.7,1)" y="6.01" font-size="16.8" font-weight="normal" text-anchor="start" fill="#555" stroke="#555" stroke-width="0.35">73,6</text>
<text transform="translate(625.8,1100.8) rotate(0) scale(0.7,1)" y="6.01" font-size="16.8" font-weight="normal" text-anchor="start" fill="#555" stroke="#555" stroke-width="0.35">79,6</text>
<text transform="translate(719.4,1100.8) rotate(0) scale(0.7,1)" y="6.01" font-size="16.8" font-weight="normal" text-anchor="start" fill="#555" stroke="#555" stroke-width="0.35">62</text>
<text transform="translate(810.6,1100.8) rotate(0) scale(0.7,1)" y="6.01" font-size="16.8" font-weight="normal" text-anchor="start" fill="#555" stroke="#555" stroke-width="0.35">45,8</text>
<text transform="translate(904.4,1100.8) rotate(0) scale(0.7,1)" y="6.01" font-size="16.8" font-weight="normal" text-anchor="start" fill="#555" stroke="#555" stroke-width="0.35">46,4</text>
<text transform="translate(998,1100.8) rotate(0) scale(0.7,1)" y="6.01" font-size="16.8" font-weight="normal" text-anchor="start" fill="#555" stroke="#555" stroke-width="0.35">15,2</text>
<text transform="translate(1092,1100.8) rotate(0) scale(0.7,1)" y="6.01" font-size="16.8" font-weight="normal" text-anchor="start" fill="#555" stroke="#555" stroke-width="0.35">74,3</text>
<text transform="translate(1185.4,1100.8) rotate(0) scale(0.7,1)" y="6.01" font-size="16.8" font-weight="normal" text-anchor="start" fill="#555" stroke="#555" stroke-width="0.35">15,2</text>
<text transform="translate(1279.4,1100.8) rotate(0) scale(0.7,1)" y="6.01" font-size="16.8" font-weight="normal" text-anchor="start" fill="#555" stroke="#555" stroke-width="0.35">29,2</text>
<text transform="translate(1373.4,1100.8) rotate(0) scale(0.7,1)" y="6.01" font-size="16.8" font-weight="normal" text-anchor="start" fill="#555" stroke="#555" stroke-width="0.35">30</text>
<text transform="translate(1464,1100.8) rotate(0) scale(0.7,1)" y="6.01" font-size="16.8" font-weight="normal" text-anchor="start" fill="#555" stroke="#555" stroke-width="0.35">45</text>
<text transform="translate(76.4,1151.4) rotate(0) scale(0.7,1)" y="6.01" font-size="16.8" font-weight="normal" text-anchor="start" fill="#555" stroke="#555" stroke-width="0.35">5-25x56</text>
<text transform="translate(250,1151.4) rotate(0) scale(0.7,1)" y="6.01" font-size="16.8" font-weight="normal" text-anchor="start" fill="#555" stroke="#555" stroke-width="0.35">422</text>
<text transform="translate(342.8,1151.4) rotate(0) scale(0.7,1)" y="6.01" font-size="16.8" font-weight="normal" text-anchor="start" fill="#555" stroke="#555" stroke-width="0.35">148,8</text>
<text transform="translate(438,1151.4) rotate(0) scale(0.7,1)" y="6.01" font-size="16.8" font-weight="normal" text-anchor="start" fill="#555" stroke="#555" stroke-width="0.35">60,5</text>
<text transform="translate(532,1151.4) rotate(0) scale(0.7,1)" y="6.01" font-size="16.8" font-weight="normal" text-anchor="start" fill="#555" stroke="#555" stroke-width="0.35">68,1</text>
<text transform="translate(625.8,1151.4) rotate(0) scale(0.7,1)" y="6.01" font-size="16.8" font-weight="normal" text-anchor="start" fill="#555" stroke="#555" stroke-width="0.35">78,2</text>
<text transform="translate(719.4,1151.4) rotate(0) scale(0.7,1)" y="6.01" font-size="16.8" font-weight="normal" text-anchor="start" fill="#555" stroke="#555" stroke-width="0.35">62</text>
<text transform="translate(810.6,1151.4) rotate(0) scale(0.7,1)" y="6.01" font-size="16.8" font-weight="normal" text-anchor="start" fill="#555" stroke="#555" stroke-width="0.35">45,8</text>
<text transform="translate(904.4,1151.4) rotate(0) scale(0.7,1)" y="6.01" font-size="16.8" font-weight="normal" text-anchor="start" fill="#555" stroke="#555" stroke-width="0.35">67,8</text>
<text transform="translate(998,1151.4) rotate(0) scale(0.7,1)" y="6.01" font-size="16.8" font-weight="normal" text-anchor="start" fill="#555" stroke="#555" stroke-width="0.35">29,3</text>
<text transform="translate(1092,1151.4) rotate(0) scale(0.7,1)" y="6.01" font-size="16.8" font-weight="normal" text-anchor="start" fill="#555" stroke="#555" stroke-width="0.35">94,5</text>
<text transform="translate(1185.4,1151.4) rotate(0) scale(0.7,1)" y="6.01" font-size="16.8" font-weight="normal" text-anchor="start" fill="#555" stroke="#555" stroke-width="0.35">25,3</text>
<text transform="translate(1279.4,1151.4) rotate(0) scale(0.7,1)" y="6.01" font-size="16.8" font-weight="normal" text-anchor="start" fill="#555" stroke="#555" stroke-width="0.35">35,2</text>
<text transform="translate(1373.4,1151.4) rotate(0) scale(0.7,1)" y="6.01" font-size="16.8" font-weight="normal" text-anchor="start" fill="#555" stroke="#555" stroke-width="0.35">34</text>
<text transform="translate(1464,1151.4) rotate(0) scale(0.7,1)" y="6.01" font-size="16.8" font-weight="normal" text-anchor="start" fill="#555" stroke="#555" stroke-width="0.35">45</text>
</svg>
</body></html>
